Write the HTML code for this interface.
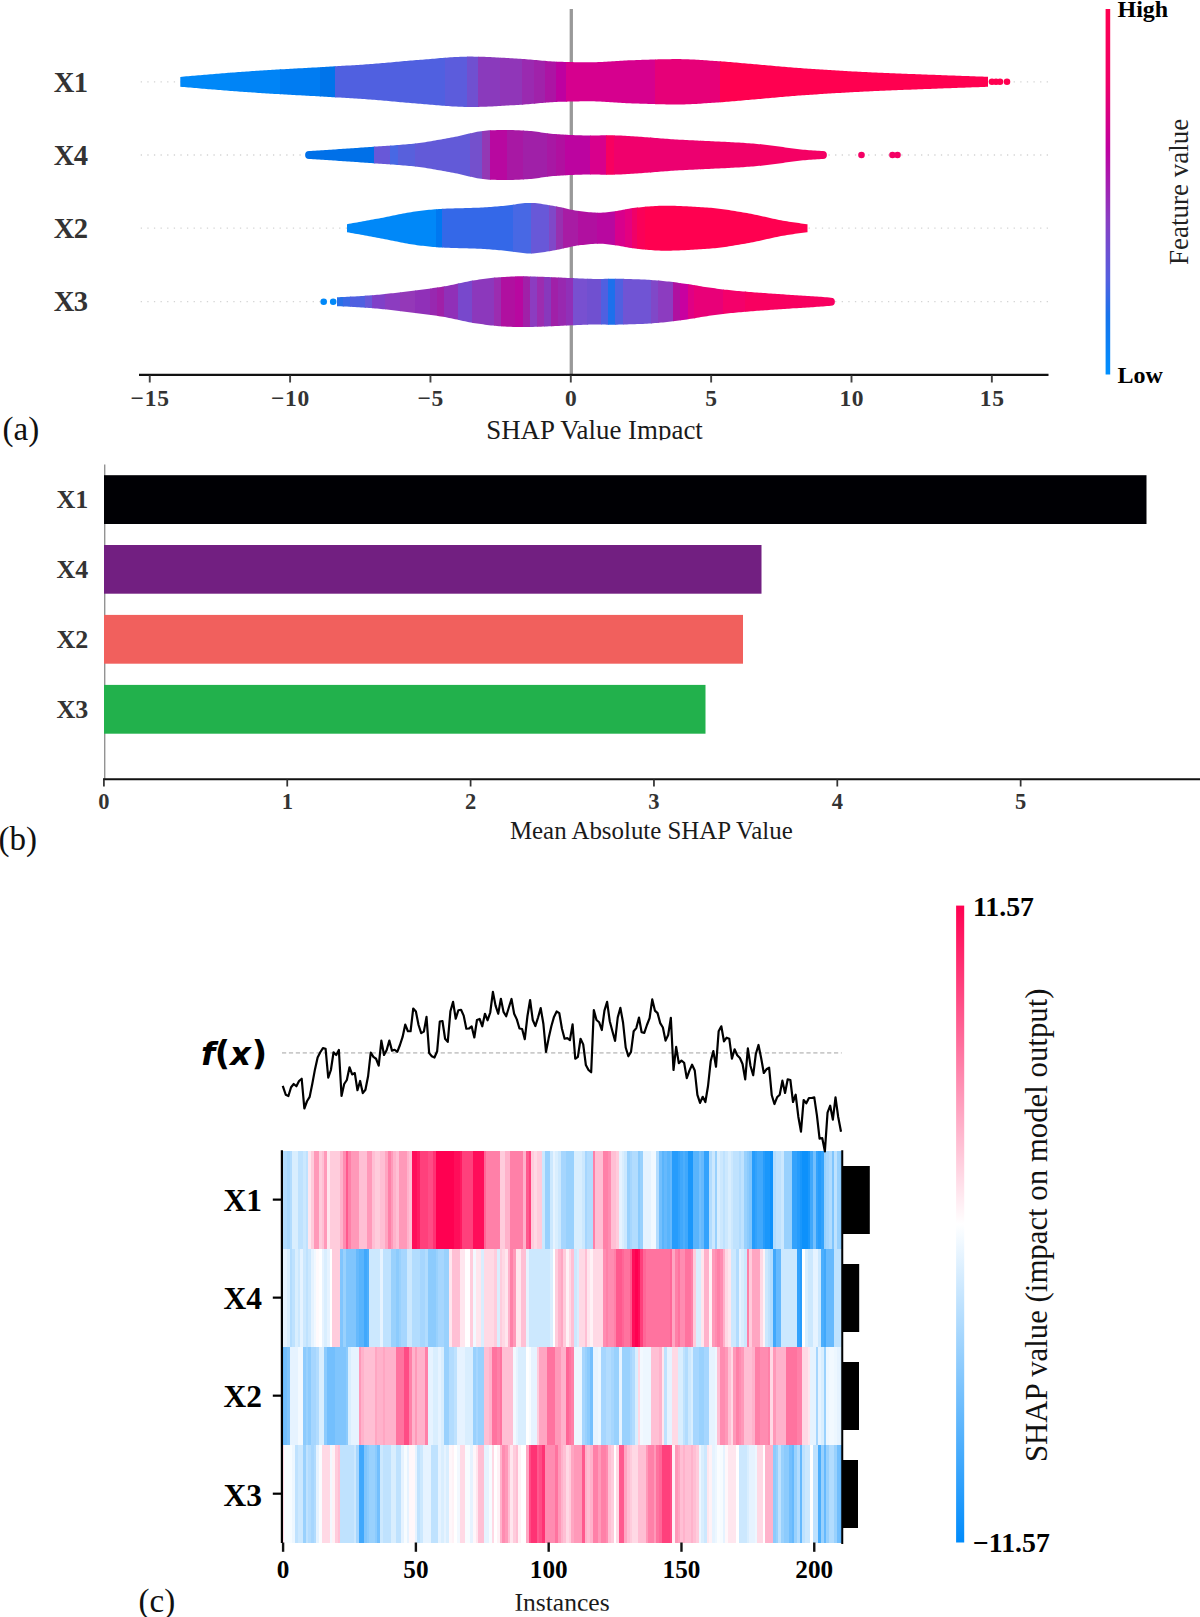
<!DOCTYPE html>
<html lang="en"><head><meta charset="utf-8"><title>SHAP analysis figure</title>
<style>
html,body{margin:0;padding:0;background:#fff;}
body{width:1200px;height:1617px;overflow:hidden;}
svg{display:block;}
text{font-family:"Liberation Serif","DejaVu Serif",serif;}
.b{font-weight:bold;}
.g{fill:#333;}
.fx{font-family:"DejaVu Sans","Liberation Sans",sans-serif;font-weight:bold;font-style:italic;}
</style></head><body>
<svg width="1200" height="1617" viewBox="0 0 1200 1617">
<rect width="1200" height="1617" fill="#fff"/>

<!-- panel a -->
<defs>
<linearGradient id="cba" x1="0" y1="0" x2="0" y2="1"><stop offset="0" stop-color="#FF0050"/><stop offset="0.2" stop-color="#F00068"/><stop offset="0.38" stop-color="#C000A0"/><stop offset="0.58" stop-color="#8840C4"/><stop offset="0.74" stop-color="#5460E0"/><stop offset="0.84" stop-color="#1874EC"/><stop offset="1" stop-color="#0090FF"/></linearGradient>
<linearGradient id="cbc" x1="0" y1="0" x2="0" y2="1"><stop offset="0" stop-color="#FF0051"/><stop offset="0.5" stop-color="#FFFFFF"/><stop offset="1" stop-color="#008BFB"/></linearGradient>
<clipPath id="cpX1"><path d="M180.3 76.9 L182.3 76.72 L184.3 76.54 L186.3 76.36 L188.3 76.18 L190.3 76.01 L192.3 75.83 L194.3 75.66 L196.3 75.49 L198.3 75.31 L200.3 75.14 L202.3 74.97 L204.3 74.8 L206.3 74.64 L208.3 74.47 L210.3 74.3 L212.3 74.14 L214.3 73.98 L216.3 73.81 L218.3 73.65 L220.3 73.49 L222.3 73.34 L224.3 73.18 L226.3 73.02 L228.3 72.87 L230.3 72.71 L232.3 72.56 L234.3 72.41 L236.3 72.26 L238.3 72.11 L240.3 71.97 L242.3 71.82 L244.3 71.68 L246.3 71.54 L248.3 71.4 L250.3 71.26 L252.3 71.12 L254.3 70.98 L256.3 70.85 L258.3 70.71 L260.3 70.58 L262.3 70.45 L264.3 70.33 L266.3 70.2 L268.3 70.08 L270.3 69.95 L272.3 69.83 L274.3 69.71 L276.3 69.6 L278.3 69.48 L280.3 69.36 L282.3 69.25 L284.3 69.14 L286.3 69.02 L288.3 68.91 L290.3 68.8 L292.3 68.69 L294.3 68.58 L296.3 68.47 L298.3 68.36 L300.3 68.25 L302.3 68.14 L304.3 68.04 L306.3 67.93 L308.3 67.82 L310.3 67.71 L312.3 67.6 L314.3 67.49 L316.3 67.38 L318.3 67.27 L320.3 67.15 L322.3 67.04 L324.3 66.93 L326.3 66.81 L328.3 66.7 L330.3 66.58 L332.3 66.46 L334.3 66.34 L336.3 66.22 L338.3 66.1 L340.3 65.98 L342.3 65.86 L344.3 65.74 L346.3 65.62 L348.3 65.5 L350.3 65.38 L352.3 65.26 L354.3 65.14 L356.3 65.02 L358.3 64.89 L360.3 64.76 L362.3 64.63 L364.3 64.5 L366.3 64.36 L368.3 64.22 L370.3 64.08 L372.3 63.93 L374.3 63.78 L376.3 63.62 L378.3 63.45 L380.3 63.28 L382.3 63.11 L384.3 62.94 L386.3 62.76 L388.3 62.58 L390.3 62.39 L392.3 62.21 L394.3 62.02 L396.3 61.84 L398.3 61.65 L400.3 61.47 L402.3 61.29 L404.3 61.1 L406.3 60.93 L408.3 60.75 L410.3 60.58 L412.3 60.41 L414.3 60.24 L416.3 60.08 L418.3 59.93 L420.3 59.78 L422.3 59.63 L424.3 59.47 L426.3 59.31 L428.3 59.14 L430.3 58.97 L432.3 58.8 L434.3 58.63 L436.3 58.46 L438.3 58.29 L440.3 58.12 L442.3 57.96 L444.3 57.8 L446.3 57.64 L448.3 57.49 L450.3 57.35 L452.3 57.22 L454.3 57.1 L456.3 56.99 L458.3 56.89 L460.3 56.8 L462.3 56.73 L464.3 56.67 L466.3 56.63 L468.3 56.61 L470.3 56.6 L472.3 56.61 L474.3 56.63 L476.3 56.66 L478.3 56.7 L480.3 56.75 L482.3 56.81 L484.3 56.87 L486.3 56.95 L488.3 57.03 L490.3 57.12 L492.3 57.21 L494.3 57.31 L496.3 57.42 L498.3 57.53 L500.3 57.64 L502.3 57.75 L504.3 57.87 L506.3 57.99 L508.3 58.11 L510.3 58.23 L512.3 58.35 L514.3 58.47 L516.3 58.59 L518.3 58.7 L520.3 58.82 L522.3 58.94 L524.3 59.08 L526.3 59.23 L528.3 59.39 L530.3 59.56 L532.3 59.74 L534.3 59.92 L536.3 60.1 L538.3 60.29 L540.3 60.48 L542.3 60.66 L544.3 60.83 L546.3 61 L548.3 61.16 L550.3 61.31 L552.3 61.44 L554.3 61.56 L556.3 61.66 L558.3 61.75 L560.3 61.81 L562.3 61.86 L564.3 61.91 L566.3 61.96 L568.3 62.01 L570.3 62.05 L572.3 62.1 L574.3 62.14 L576.3 62.17 L578.3 62.2 L580.3 62.23 L582.3 62.26 L584.3 62.28 L586.3 62.29 L588.3 62.3 L590.3 62.3 L592.3 62.29 L594.3 62.25 L596.3 62.2 L598.3 62.12 L600.3 62.04 L602.3 61.94 L604.3 61.83 L606.3 61.71 L608.3 61.58 L610.3 61.45 L612.3 61.32 L614.3 61.18 L616.3 61.05 L618.3 60.91 L620.3 60.79 L622.3 60.67 L624.3 60.55 L626.3 60.45 L628.3 60.36 L630.3 60.29 L632.3 60.22 L634.3 60.15 L636.3 60.08 L638.3 60.01 L640.3 59.94 L642.3 59.87 L644.3 59.8 L646.3 59.73 L648.3 59.66 L650.3 59.6 L652.3 59.54 L654.3 59.48 L656.3 59.42 L658.3 59.37 L660.3 59.32 L662.3 59.27 L664.3 59.23 L666.3 59.19 L668.3 59.16 L670.3 59.14 L672.3 59.12 L674.3 59.11 L676.3 59.1 L678.3 59.1 L680.3 59.12 L682.3 59.16 L684.3 59.2 L686.3 59.26 L688.3 59.34 L690.3 59.42 L692.3 59.51 L694.3 59.61 L696.3 59.72 L698.3 59.84 L700.3 59.97 L702.3 60.09 L704.3 60.23 L706.3 60.36 L708.3 60.5 L710.3 60.64 L712.3 60.78 L714.3 60.92 L716.3 61.06 L718.3 61.19 L720.3 61.32 L722.3 61.45 L724.3 61.6 L726.3 61.75 L728.3 61.91 L730.3 62.07 L732.3 62.24 L734.3 62.41 L736.3 62.59 L738.3 62.77 L740.3 62.95 L742.3 63.13 L744.3 63.3 L746.3 63.48 L748.3 63.65 L750.3 63.83 L752.3 64 L754.3 64.17 L756.3 64.34 L758.3 64.52 L760.3 64.7 L762.3 64.88 L764.3 65.06 L766.3 65.24 L768.3 65.43 L770.3 65.61 L772.3 65.79 L774.3 65.97 L776.3 66.15 L778.3 66.33 L780.3 66.5 L782.3 66.68 L784.3 66.85 L786.3 67.02 L788.3 67.19 L790.3 67.36 L792.3 67.52 L794.3 67.67 L796.3 67.83 L798.3 67.98 L800.3 68.12 L802.3 68.26 L804.3 68.4 L806.3 68.54 L808.3 68.68 L810.3 68.82 L812.3 68.96 L814.3 69.09 L816.3 69.22 L818.3 69.35 L820.3 69.49 L822.3 69.62 L824.3 69.74 L826.3 69.87 L828.3 70 L830.3 70.12 L832.3 70.24 L834.3 70.36 L836.3 70.48 L838.3 70.6 L840.3 70.72 L842.3 70.84 L844.3 70.95 L846.3 71.07 L848.3 71.18 L850.3 71.29 L852.3 71.4 L854.3 71.5 L856.3 71.61 L858.3 71.72 L860.3 71.82 L862.3 71.92 L864.3 72.02 L866.3 72.12 L868.3 72.22 L870.3 72.31 L872.3 72.41 L874.3 72.5 L876.3 72.59 L878.3 72.68 L880.3 72.77 L882.3 72.86 L884.3 72.94 L886.3 73.03 L888.3 73.11 L890.3 73.19 L892.3 73.27 L894.3 73.35 L896.3 73.43 L898.3 73.51 L900.3 73.58 L902.3 73.66 L904.3 73.74 L906.3 73.81 L908.3 73.89 L910.3 73.96 L912.3 74.04 L914.3 74.11 L916.3 74.19 L918.3 74.26 L920.3 74.34 L922.3 74.41 L924.3 74.49 L926.3 74.56 L928.3 74.64 L930.3 74.71 L932.3 74.79 L934.3 74.86 L936.3 74.94 L938.3 75.01 L940.3 75.09 L942.3 75.16 L944.3 75.24 L946.3 75.31 L948.3 75.39 L950.3 75.46 L952.3 75.53 L954.3 75.61 L956.3 75.68 L958.3 75.75 L960.3 75.82 L962.3 75.9 L964.3 75.97 L966.3 76.04 L968.3 76.11 L970.3 76.18 L972.3 76.25 L974.3 76.32 L976.3 76.39 L978.3 76.46 L980.3 76.53 L982.3 76.6 L984.3 76.67 L986.3 76.74 L988 76.8 L988 86.8 L986.3 86.86 L984.3 86.93 L982.3 87 L980.3 87.07 L978.3 87.14 L976.3 87.21 L974.3 87.28 L972.3 87.35 L970.3 87.42 L968.3 87.49 L966.3 87.56 L964.3 87.63 L962.3 87.7 L960.3 87.78 L958.3 87.85 L956.3 87.92 L954.3 87.99 L952.3 88.07 L950.3 88.14 L948.3 88.21 L946.3 88.29 L944.3 88.36 L942.3 88.44 L940.3 88.51 L938.3 88.59 L936.3 88.66 L934.3 88.74 L932.3 88.81 L930.3 88.89 L928.3 88.96 L926.3 89.04 L924.3 89.11 L922.3 89.19 L920.3 89.26 L918.3 89.34 L916.3 89.41 L914.3 89.49 L912.3 89.56 L910.3 89.64 L908.3 89.71 L906.3 89.79 L904.3 89.86 L902.3 89.94 L900.3 90.02 L898.3 90.09 L896.3 90.17 L894.3 90.25 L892.3 90.33 L890.3 90.41 L888.3 90.49 L886.3 90.57 L884.3 90.66 L882.3 90.74 L880.3 90.83 L878.3 90.92 L876.3 91.01 L874.3 91.1 L872.3 91.19 L870.3 91.29 L868.3 91.38 L866.3 91.48 L864.3 91.58 L862.3 91.68 L860.3 91.78 L858.3 91.88 L856.3 91.99 L854.3 92.1 L852.3 92.2 L850.3 92.31 L848.3 92.42 L846.3 92.53 L844.3 92.65 L842.3 92.76 L840.3 92.88 L838.3 93 L836.3 93.12 L834.3 93.24 L832.3 93.36 L830.3 93.48 L828.3 93.6 L826.3 93.73 L824.3 93.86 L822.3 93.98 L820.3 94.11 L818.3 94.25 L816.3 94.38 L814.3 94.51 L812.3 94.64 L810.3 94.78 L808.3 94.92 L806.3 95.06 L804.3 95.2 L802.3 95.34 L800.3 95.48 L798.3 95.62 L796.3 95.77 L794.3 95.93 L792.3 96.08 L790.3 96.24 L788.3 96.41 L786.3 96.58 L784.3 96.75 L782.3 96.92 L780.3 97.1 L778.3 97.27 L776.3 97.45 L774.3 97.63 L772.3 97.81 L770.3 97.99 L768.3 98.17 L766.3 98.36 L764.3 98.54 L762.3 98.72 L760.3 98.9 L758.3 99.08 L756.3 99.26 L754.3 99.43 L752.3 99.6 L750.3 99.77 L748.3 99.95 L746.3 100.12 L744.3 100.3 L742.3 100.47 L740.3 100.65 L738.3 100.83 L736.3 101.01 L734.3 101.19 L732.3 101.36 L730.3 101.53 L728.3 101.69 L726.3 101.85 L724.3 102 L722.3 102.15 L720.3 102.28 L718.3 102.41 L716.3 102.54 L714.3 102.68 L712.3 102.82 L710.3 102.96 L708.3 103.1 L706.3 103.24 L704.3 103.37 L702.3 103.51 L700.3 103.63 L698.3 103.76 L696.3 103.88 L694.3 103.99 L692.3 104.09 L690.3 104.18 L688.3 104.26 L686.3 104.34 L684.3 104.4 L682.3 104.44 L680.3 104.48 L678.3 104.5 L676.3 104.5 L674.3 104.49 L672.3 104.48 L670.3 104.46 L668.3 104.44 L666.3 104.41 L664.3 104.37 L662.3 104.33 L660.3 104.28 L658.3 104.23 L656.3 104.18 L654.3 104.12 L652.3 104.06 L650.3 104 L648.3 103.94 L646.3 103.87 L644.3 103.8 L642.3 103.73 L640.3 103.66 L638.3 103.59 L636.3 103.52 L634.3 103.45 L632.3 103.38 L630.3 103.31 L628.3 103.24 L626.3 103.15 L624.3 103.05 L622.3 102.93 L620.3 102.81 L618.3 102.69 L616.3 102.55 L614.3 102.42 L612.3 102.28 L610.3 102.15 L608.3 102.02 L606.3 101.89 L604.3 101.77 L602.3 101.66 L600.3 101.56 L598.3 101.48 L596.3 101.4 L594.3 101.35 L592.3 101.31 L590.3 101.3 L588.3 101.3 L586.3 101.31 L584.3 101.32 L582.3 101.34 L580.3 101.37 L578.3 101.4 L576.3 101.43 L574.3 101.46 L572.3 101.5 L570.3 101.55 L568.3 101.59 L566.3 101.64 L564.3 101.69 L562.3 101.74 L560.3 101.79 L558.3 101.85 L556.3 101.94 L554.3 102.04 L552.3 102.16 L550.3 102.29 L548.3 102.44 L546.3 102.6 L544.3 102.77 L542.3 102.94 L540.3 103.12 L538.3 103.31 L536.3 103.5 L534.3 103.68 L532.3 103.86 L530.3 104.04 L528.3 104.21 L526.3 104.37 L524.3 104.52 L522.3 104.66 L520.3 104.78 L518.3 104.9 L516.3 105.01 L514.3 105.13 L512.3 105.25 L510.3 105.37 L508.3 105.49 L506.3 105.61 L504.3 105.73 L502.3 105.85 L500.3 105.96 L498.3 106.07 L496.3 106.18 L494.3 106.29 L492.3 106.39 L490.3 106.48 L488.3 106.57 L486.3 106.65 L484.3 106.73 L482.3 106.79 L480.3 106.85 L478.3 106.9 L476.3 106.94 L474.3 106.97 L472.3 106.99 L470.3 107 L468.3 106.99 L466.3 106.97 L464.3 106.93 L462.3 106.87 L460.3 106.8 L458.3 106.71 L456.3 106.61 L454.3 106.5 L452.3 106.38 L450.3 106.25 L448.3 106.11 L446.3 105.96 L444.3 105.8 L442.3 105.64 L440.3 105.48 L438.3 105.31 L436.3 105.14 L434.3 104.97 L432.3 104.8 L430.3 104.63 L428.3 104.46 L426.3 104.29 L424.3 104.13 L422.3 103.97 L420.3 103.82 L418.3 103.67 L416.3 103.52 L414.3 103.36 L412.3 103.19 L410.3 103.02 L408.3 102.85 L406.3 102.67 L404.3 102.5 L402.3 102.31 L400.3 102.13 L398.3 101.95 L396.3 101.76 L394.3 101.58 L392.3 101.39 L390.3 101.21 L388.3 101.02 L386.3 100.84 L384.3 100.66 L382.3 100.49 L380.3 100.32 L378.3 100.15 L376.3 99.98 L374.3 99.82 L372.3 99.67 L370.3 99.52 L368.3 99.38 L366.3 99.24 L364.3 99.1 L362.3 98.97 L360.3 98.84 L358.3 98.71 L356.3 98.58 L354.3 98.46 L352.3 98.34 L350.3 98.22 L348.3 98.1 L346.3 97.98 L344.3 97.86 L342.3 97.74 L340.3 97.62 L338.3 97.5 L336.3 97.38 L334.3 97.26 L332.3 97.14 L330.3 97.02 L328.3 96.9 L326.3 96.79 L324.3 96.67 L322.3 96.56 L320.3 96.45 L318.3 96.33 L316.3 96.22 L314.3 96.11 L312.3 96 L310.3 95.89 L308.3 95.78 L306.3 95.67 L304.3 95.56 L302.3 95.46 L300.3 95.35 L298.3 95.24 L296.3 95.13 L294.3 95.02 L292.3 94.91 L290.3 94.8 L288.3 94.69 L286.3 94.58 L284.3 94.46 L282.3 94.35 L280.3 94.24 L278.3 94.12 L276.3 94 L274.3 93.89 L272.3 93.77 L270.3 93.65 L268.3 93.52 L266.3 93.4 L264.3 93.27 L262.3 93.15 L260.3 93.02 L258.3 92.89 L256.3 92.75 L254.3 92.62 L252.3 92.48 L250.3 92.34 L248.3 92.2 L246.3 92.06 L244.3 91.92 L242.3 91.78 L240.3 91.63 L238.3 91.49 L236.3 91.34 L234.3 91.19 L232.3 91.04 L230.3 90.89 L228.3 90.73 L226.3 90.58 L224.3 90.42 L222.3 90.26 L220.3 90.11 L218.3 89.95 L216.3 89.79 L214.3 89.62 L212.3 89.46 L210.3 89.3 L208.3 89.13 L206.3 88.96 L204.3 88.8 L202.3 88.63 L200.3 88.46 L198.3 88.29 L196.3 88.11 L194.3 87.94 L192.3 87.77 L190.3 87.59 L188.3 87.42 L186.3 87.24 L184.3 87.06 L182.3 86.88 L180.3 86.7 Z"/></clipPath>
<clipPath id="cpX4"><path d="M309.1 151 L311.1 150.88 L313.1 150.76 L315.1 150.64 L317.1 150.52 L319.1 150.4 L321.1 150.27 L323.1 150.15 L325.1 150.02 L327.1 149.9 L329.1 149.77 L331.1 149.64 L333.1 149.51 L335.1 149.38 L337.1 149.25 L339.1 149.12 L341.1 148.99 L343.1 148.85 L345.1 148.72 L347.1 148.58 L349.1 148.45 L351.1 148.31 L353.1 148.17 L355.1 148.04 L357.1 147.9 L359.1 147.76 L361.1 147.62 L363.1 147.48 L365.1 147.34 L367.1 147.19 L369.1 147.05 L371.1 146.91 L373.1 146.76 L375.1 146.62 L377.1 146.48 L379.1 146.34 L381.1 146.2 L383.1 146.07 L385.1 145.93 L387.1 145.79 L389.1 145.66 L391.1 145.52 L393.1 145.38 L395.1 145.23 L397.1 145.09 L399.1 144.93 L401.1 144.78 L403.1 144.61 L405.1 144.45 L407.1 144.27 L409.1 144.09 L411.1 143.9 L413.1 143.7 L415.1 143.49 L417.1 143.26 L419.1 143.02 L421.1 142.75 L423.1 142.47 L425.1 142.17 L427.1 141.85 L429.1 141.52 L431.1 141.19 L433.1 140.84 L435.1 140.48 L437.1 140.12 L439.1 139.75 L441.1 139.38 L443.1 139.01 L445.1 138.64 L447.1 138.27 L449.1 137.91 L451.1 137.55 L453.1 137.19 L455.1 136.81 L457.1 136.4 L459.1 135.97 L461.1 135.51 L463.1 135.04 L465.1 134.57 L467.1 134.09 L469.1 133.61 L471.1 133.15 L473.1 132.7 L475.1 132.27 L477.1 131.87 L479.1 131.5 L481.1 131.16 L483.1 130.88 L485.1 130.64 L487.1 130.45 L489.1 130.33 L491.1 130.27 L493.1 130.21 L495.1 130.16 L497.1 130.12 L499.1 130.08 L501.1 130.04 L503.1 130.02 L505.1 130 L507.1 130 L509.1 130.01 L511.1 130.04 L513.1 130.1 L515.1 130.16 L517.1 130.25 L519.1 130.34 L521.1 130.45 L523.1 130.56 L525.1 130.69 L527.1 130.81 L529.1 130.94 L531.1 131.08 L533.1 131.27 L535.1 131.51 L537.1 131.79 L539.1 132.09 L541.1 132.4 L543.1 132.72 L545.1 133.02 L547.1 133.3 L549.1 133.54 L551.1 133.73 L553.1 133.88 L555.1 134.01 L557.1 134.15 L559.1 134.28 L561.1 134.41 L563.1 134.54 L565.1 134.66 L567.1 134.77 L569.1 134.88 L571.1 134.98 L573.1 135.08 L575.1 135.17 L577.1 135.25 L579.1 135.31 L581.1 135.37 L583.1 135.42 L585.1 135.46 L587.1 135.49 L589.1 135.5 L591.1 135.5 L593.1 135.48 L595.1 135.45 L597.1 135.42 L599.1 135.38 L601.1 135.35 L603.1 135.32 L605.1 135.3 L607.1 135.3 L609.1 135.31 L611.1 135.33 L613.1 135.37 L615.1 135.42 L617.1 135.47 L619.1 135.54 L621.1 135.62 L623.1 135.71 L625.1 135.81 L627.1 135.91 L629.1 136.02 L631.1 136.14 L633.1 136.27 L635.1 136.4 L637.1 136.54 L639.1 136.68 L641.1 136.82 L643.1 136.97 L645.1 137.13 L647.1 137.28 L649.1 137.44 L651.1 137.6 L653.1 137.76 L655.1 137.92 L657.1 138.08 L659.1 138.23 L661.1 138.39 L663.1 138.55 L665.1 138.7 L667.1 138.85 L669.1 138.99 L671.1 139.14 L673.1 139.27 L675.1 139.4 L677.1 139.53 L679.1 139.65 L681.1 139.76 L683.1 139.87 L685.1 139.98 L687.1 140.08 L689.1 140.18 L691.1 140.28 L693.1 140.37 L695.1 140.47 L697.1 140.56 L699.1 140.65 L701.1 140.75 L703.1 140.84 L705.1 140.93 L707.1 141.02 L709.1 141.1 L711.1 141.19 L713.1 141.29 L715.1 141.38 L717.1 141.47 L719.1 141.56 L721.1 141.66 L723.1 141.75 L725.1 141.85 L727.1 141.95 L729.1 142.06 L731.1 142.16 L733.1 142.27 L735.1 142.38 L737.1 142.5 L739.1 142.62 L741.1 142.74 L743.1 142.87 L745.1 143 L747.1 143.14 L749.1 143.28 L751.1 143.43 L753.1 143.59 L755.1 143.76 L757.1 143.95 L759.1 144.15 L761.1 144.36 L763.1 144.59 L765.1 144.82 L767.1 145.07 L769.1 145.31 L771.1 145.57 L773.1 145.82 L775.1 146.08 L777.1 146.33 L779.1 146.59 L781.1 146.84 L783.1 147.11 L785.1 147.4 L787.1 147.7 L789.1 148 L791.1 148.29 L793.1 148.58 L795.1 148.85 L797.1 149.09 L799.1 149.31 L801.1 149.5 L803.1 149.68 L805.1 149.86 L807.1 150.03 L809.1 150.19 L811.1 150.34 L813.1 150.48 L815.1 150.61 L817.1 150.73 L819.1 150.84 L821.1 150.93 L822.9 151 A4 4 0 0 1 822.9 159 L822.9 159 L821.1 159.07 L819.1 159.16 L817.1 159.27 L815.1 159.39 L813.1 159.52 L811.1 159.66 L809.1 159.81 L807.1 159.97 L805.1 160.14 L803.1 160.32 L801.1 160.5 L799.1 160.69 L797.1 160.91 L795.1 161.15 L793.1 161.42 L791.1 161.71 L789.1 162 L787.1 162.3 L785.1 162.6 L783.1 162.89 L781.1 163.16 L779.1 163.41 L777.1 163.67 L775.1 163.92 L773.1 164.18 L771.1 164.43 L769.1 164.69 L767.1 164.93 L765.1 165.18 L763.1 165.41 L761.1 165.64 L759.1 165.85 L757.1 166.05 L755.1 166.24 L753.1 166.41 L751.1 166.57 L749.1 166.72 L747.1 166.86 L745.1 167 L743.1 167.13 L741.1 167.26 L739.1 167.38 L737.1 167.5 L735.1 167.62 L733.1 167.73 L731.1 167.84 L729.1 167.94 L727.1 168.05 L725.1 168.15 L723.1 168.25 L721.1 168.34 L719.1 168.44 L717.1 168.53 L715.1 168.62 L713.1 168.71 L711.1 168.81 L709.1 168.9 L707.1 168.98 L705.1 169.07 L703.1 169.16 L701.1 169.25 L699.1 169.35 L697.1 169.44 L695.1 169.53 L693.1 169.63 L691.1 169.72 L689.1 169.82 L687.1 169.92 L685.1 170.02 L683.1 170.13 L681.1 170.24 L679.1 170.35 L677.1 170.47 L675.1 170.6 L673.1 170.73 L671.1 170.86 L669.1 171.01 L667.1 171.15 L665.1 171.3 L663.1 171.45 L661.1 171.61 L659.1 171.77 L657.1 171.92 L655.1 172.08 L653.1 172.24 L651.1 172.4 L649.1 172.56 L647.1 172.72 L645.1 172.87 L643.1 173.03 L641.1 173.18 L639.1 173.32 L637.1 173.46 L635.1 173.6 L633.1 173.73 L631.1 173.86 L629.1 173.98 L627.1 174.09 L625.1 174.19 L623.1 174.29 L621.1 174.38 L619.1 174.46 L617.1 174.53 L615.1 174.58 L613.1 174.63 L611.1 174.67 L609.1 174.69 L607.1 174.7 L605.1 174.7 L603.1 174.68 L601.1 174.65 L599.1 174.62 L597.1 174.58 L595.1 174.55 L593.1 174.52 L591.1 174.5 L589.1 174.5 L587.1 174.51 L585.1 174.54 L583.1 174.58 L581.1 174.63 L579.1 174.69 L577.1 174.75 L575.1 174.83 L573.1 174.92 L571.1 175.02 L569.1 175.12 L567.1 175.23 L565.1 175.34 L563.1 175.46 L561.1 175.59 L559.1 175.72 L557.1 175.85 L555.1 175.99 L553.1 176.12 L551.1 176.27 L549.1 176.46 L547.1 176.7 L545.1 176.98 L543.1 177.28 L541.1 177.6 L539.1 177.91 L537.1 178.21 L535.1 178.49 L533.1 178.73 L531.1 178.92 L529.1 179.06 L527.1 179.19 L525.1 179.31 L523.1 179.44 L521.1 179.55 L519.1 179.66 L517.1 179.75 L515.1 179.84 L513.1 179.9 L511.1 179.96 L509.1 179.99 L507.1 180 L505.1 180 L503.1 179.98 L501.1 179.96 L499.1 179.92 L497.1 179.88 L495.1 179.84 L493.1 179.79 L491.1 179.73 L489.1 179.67 L487.1 179.55 L485.1 179.36 L483.1 179.12 L481.1 178.84 L479.1 178.5 L477.1 178.13 L475.1 177.73 L473.1 177.3 L471.1 176.85 L469.1 176.39 L467.1 175.91 L465.1 175.43 L463.1 174.96 L461.1 174.49 L459.1 174.03 L457.1 173.6 L455.1 173.19 L453.1 172.81 L451.1 172.45 L449.1 172.09 L447.1 171.73 L445.1 171.36 L443.1 170.99 L441.1 170.62 L439.1 170.25 L437.1 169.88 L435.1 169.52 L433.1 169.16 L431.1 168.81 L429.1 168.48 L427.1 168.15 L425.1 167.83 L423.1 167.53 L421.1 167.25 L419.1 166.98 L417.1 166.74 L415.1 166.51 L413.1 166.3 L411.1 166.1 L409.1 165.91 L407.1 165.73 L405.1 165.55 L403.1 165.39 L401.1 165.22 L399.1 165.07 L397.1 164.91 L395.1 164.77 L393.1 164.62 L391.1 164.48 L389.1 164.34 L387.1 164.21 L385.1 164.07 L383.1 163.93 L381.1 163.8 L379.1 163.66 L377.1 163.52 L375.1 163.38 L373.1 163.24 L371.1 163.09 L369.1 162.95 L367.1 162.81 L365.1 162.66 L363.1 162.52 L361.1 162.38 L359.1 162.24 L357.1 162.1 L355.1 161.96 L353.1 161.83 L351.1 161.69 L349.1 161.55 L347.1 161.42 L345.1 161.28 L343.1 161.15 L341.1 161.01 L339.1 160.88 L337.1 160.75 L335.1 160.62 L333.1 160.49 L331.1 160.36 L329.1 160.23 L327.1 160.1 L325.1 159.98 L323.1 159.85 L321.1 159.73 L319.1 159.6 L317.1 159.48 L315.1 159.36 L313.1 159.24 L311.1 159.12 L309.1 159 A4 4 0 0 1 309.1 151 Z"/></clipPath>
<clipPath id="cpX2"><path d="M347 224.2 L349 223.84 L351 223.48 L353 223.12 L355 222.76 L357 222.4 L359 222.04 L361 221.67 L363 221.31 L365 220.95 L367 220.58 L369 220.22 L371 219.85 L373 219.49 L375 219.12 L377 218.75 L379 218.38 L381 218.01 L383 217.63 L385 217.24 L387 216.84 L389 216.43 L391 216.02 L393 215.6 L395 215.19 L397 214.78 L399 214.37 L401 213.97 L403 213.57 L405 213.19 L407 212.82 L409 212.47 L411 212.14 L413 211.82 L415 211.53 L417 211.26 L419 211.01 L421 210.77 L423 210.53 L425 210.3 L427 210.08 L429 209.87 L431 209.67 L433 209.48 L435 209.31 L437 209.15 L439 209 L441 208.88 L443 208.78 L445 208.68 L447 208.6 L449 208.53 L451 208.46 L453 208.4 L455 208.34 L457 208.29 L459 208.24 L461 208.19 L463 208.14 L465 208.09 L467 208.04 L469 207.99 L471 207.93 L473 207.87 L475 207.8 L477 207.73 L479 207.65 L481 207.55 L483 207.45 L485 207.33 L487 207.2 L489 207.06 L491 206.91 L493 206.75 L495 206.58 L497 206.41 L499 206.24 L501 206.06 L503 205.88 L505 205.7 L507 205.5 L509 205.25 L511 204.98 L513 204.69 L515 204.39 L517 204.09 L519 203.8 L521 203.54 L523 203.31 L525 203.12 L527 202.98 L529 202.91 L531 202.91 L533 202.98 L535 203.12 L537 203.31 L539 203.55 L541 203.82 L543 204.13 L545 204.47 L547 204.81 L549 205.17 L551 205.52 L553 205.87 L555 206.2 L557 206.54 L559 206.93 L561 207.36 L563 207.81 L565 208.28 L567 208.74 L569 209.21 L571 209.66 L573 210.08 L575 210.46 L577 210.8 L579 211.08 L581 211.31 L583 211.52 L585 211.74 L587 211.94 L589 212.13 L591 212.3 L593 212.45 L595 212.57 L597 212.65 L599 212.69 L601 212.69 L603 212.6 L605 212.45 L607 212.24 L609 212 L611 211.73 L613 211.46 L615 211.2 L617 210.92 L619 210.59 L621 210.23 L623 209.84 L625 209.44 L627 209.05 L629 208.68 L631 208.34 L633 208.04 L635 207.8 L637 207.6 L639 207.39 L641 207.19 L643 206.99 L645 206.8 L647 206.62 L649 206.45 L651 206.29 L653 206.15 L655 206.02 L657 205.91 L659 205.82 L661 205.75 L663 205.71 L665 205.7 L667 205.71 L669 205.72 L671 205.75 L673 205.79 L675 205.84 L677 205.9 L679 205.97 L681 206.05 L683 206.13 L685 206.22 L687 206.32 L689 206.43 L691 206.54 L693 206.66 L695 206.78 L697 206.9 L699 207.04 L701 207.17 L703 207.31 L705 207.45 L707 207.59 L709 207.73 L711 207.87 L713 208.04 L715 208.23 L717 208.44 L719 208.68 L721 208.93 L723 209.19 L725 209.47 L727 209.77 L729 210.08 L731 210.39 L733 210.72 L735 211.05 L737 211.39 L739 211.74 L741 212.08 L743 212.43 L745 212.77 L747 213.11 L749 213.46 L751 213.83 L753 214.22 L755 214.63 L757 215.05 L759 215.48 L761 215.93 L763 216.38 L765 216.83 L767 217.29 L769 217.74 L771 218.19 L773 218.64 L775 219.07 L777 219.49 L779 219.9 L781 220.29 L783 220.65 L785 221 L787 221.33 L789 221.65 L791 221.96 L793 222.26 L795 222.56 L797 222.84 L799 223.12 L801 223.39 L803 223.65 L805 223.9 L807 224.14 L807.5 224.2 L807.5 232.2 L807 232.26 L805 232.5 L803 232.75 L801 233.01 L799 233.28 L797 233.56 L795 233.84 L793 234.14 L791 234.44 L789 234.75 L787 235.07 L785 235.4 L783 235.75 L781 236.11 L779 236.5 L777 236.91 L775 237.33 L773 237.76 L771 238.21 L769 238.66 L767 239.11 L765 239.57 L763 240.02 L761 240.47 L759 240.92 L757 241.35 L755 241.77 L753 242.18 L751 242.57 L749 242.94 L747 243.29 L745 243.63 L743 243.97 L741 244.32 L739 244.66 L737 245.01 L735 245.35 L733 245.68 L731 246.01 L729 246.32 L727 246.63 L725 246.93 L723 247.21 L721 247.47 L719 247.72 L717 247.96 L715 248.17 L713 248.36 L711 248.53 L709 248.67 L707 248.81 L705 248.95 L703 249.09 L701 249.23 L699 249.36 L697 249.5 L695 249.62 L693 249.74 L691 249.86 L689 249.97 L687 250.08 L685 250.18 L683 250.27 L681 250.35 L679 250.43 L677 250.5 L675 250.56 L673 250.61 L671 250.65 L669 250.68 L667 250.69 L665 250.7 L663 250.69 L661 250.65 L659 250.58 L657 250.49 L655 250.38 L653 250.25 L651 250.11 L649 249.95 L647 249.78 L645 249.6 L643 249.41 L641 249.21 L639 249.01 L637 248.8 L635 248.6 L633 248.36 L631 248.06 L629 247.72 L627 247.35 L625 246.96 L623 246.56 L621 246.17 L619 245.81 L617 245.48 L615 245.2 L613 244.94 L611 244.67 L609 244.4 L607 244.16 L605 243.95 L603 243.8 L601 243.71 L599 243.71 L597 243.75 L595 243.83 L593 243.95 L591 244.1 L589 244.27 L587 244.46 L585 244.66 L583 244.88 L581 245.09 L579 245.32 L577 245.6 L575 245.94 L573 246.32 L571 246.74 L569 247.19 L567 247.66 L565 248.12 L563 248.59 L561 249.04 L559 249.47 L557 249.86 L555 250.2 L553 250.53 L551 250.88 L549 251.23 L547 251.59 L545 251.93 L543 252.27 L541 252.58 L539 252.85 L537 253.09 L535 253.28 L533 253.42 L531 253.49 L529 253.49 L527 253.42 L525 253.28 L523 253.09 L521 252.86 L519 252.6 L517 252.31 L515 252.01 L513 251.71 L511 251.42 L509 251.15 L507 250.9 L505 250.7 L503 250.52 L501 250.34 L499 250.16 L497 249.99 L495 249.82 L493 249.65 L491 249.49 L489 249.34 L487 249.2 L485 249.07 L483 248.95 L481 248.85 L479 248.75 L477 248.67 L475 248.6 L473 248.53 L471 248.47 L469 248.41 L467 248.36 L465 248.31 L463 248.26 L461 248.21 L459 248.16 L457 248.11 L455 248.06 L453 248 L451 247.94 L449 247.87 L447 247.8 L445 247.72 L443 247.62 L441 247.52 L439 247.4 L437 247.25 L435 247.09 L433 246.92 L431 246.73 L429 246.53 L427 246.32 L425 246.1 L423 245.87 L421 245.63 L419 245.39 L417 245.14 L415 244.87 L413 244.58 L411 244.26 L409 243.93 L407 243.58 L405 243.21 L403 242.83 L401 242.43 L399 242.03 L397 241.62 L395 241.21 L393 240.8 L391 240.38 L389 239.97 L387 239.56 L385 239.16 L383 238.77 L381 238.39 L379 238.02 L377 237.65 L375 237.28 L373 236.91 L371 236.55 L369 236.18 L367 235.82 L365 235.45 L363 235.09 L361 234.73 L359 234.36 L357 234 L355 233.64 L353 233.28 L351 232.92 L349 232.56 L347 232.2 Z"/></clipPath>
<clipPath id="cpX3"><path d="M337 297.2 L339 297.14 L341 297.07 L343 296.99 L345 296.9 L347 296.81 L349 296.71 L351 296.61 L353 296.5 L355 296.38 L357 296.26 L359 296.14 L361 296.01 L363 295.88 L365 295.74 L367 295.6 L369 295.46 L371 295.31 L373 295.16 L375 295 L377 294.83 L379 294.65 L381 294.46 L383 294.26 L385 294.04 L387 293.83 L389 293.6 L391 293.37 L393 293.13 L395 292.89 L397 292.64 L399 292.39 L401 292.14 L403 291.89 L405 291.64 L407 291.38 L409 291.13 L411 290.88 L413 290.64 L415 290.39 L417 290.15 L419 289.91 L421 289.66 L423 289.41 L425 289.16 L427 288.9 L429 288.64 L431 288.38 L433 288.11 L435 287.83 L437 287.54 L439 287.24 L441 286.94 L443 286.62 L445 286.28 L447 285.91 L449 285.51 L451 285.1 L453 284.68 L455 284.24 L457 283.79 L459 283.35 L461 282.9 L463 282.47 L465 282.04 L467 281.63 L469 281.23 L471 280.86 L473 280.51 L475 280.2 L477 279.9 L479 279.61 L481 279.32 L483 279.04 L485 278.76 L487 278.5 L489 278.25 L491 278.02 L493 277.8 L495 277.6 L497 277.42 L499 277.27 L501 277.14 L503 277.01 L505 276.88 L507 276.76 L509 276.64 L511 276.54 L513 276.45 L515 276.38 L517 276.33 L519 276.3 L521 276.3 L523 276.31 L525 276.34 L527 276.37 L529 276.41 L531 276.46 L533 276.52 L535 276.58 L537 276.64 L539 276.71 L541 276.77 L543 276.84 L545 276.9 L547 276.97 L549 277.04 L551 277.13 L553 277.21 L555 277.31 L557 277.4 L559 277.5 L561 277.6 L563 277.7 L565 277.79 L567 277.88 L569 277.96 L571 278.04 L573 278.12 L575 278.21 L577 278.29 L579 278.38 L581 278.47 L583 278.56 L585 278.64 L587 278.72 L589 278.79 L591 278.86 L593 278.91 L595 278.95 L597 278.98 L599 279 L601 278.99 L603 278.94 L605 278.85 L607 278.76 L609 278.71 L611 278.7 L613 278.71 L615 278.73 L617 278.75 L619 278.78 L621 278.82 L623 278.87 L625 278.92 L627 278.97 L629 279.03 L631 279.09 L633 279.16 L635 279.23 L637 279.29 L639 279.36 L641 279.44 L643 279.52 L645 279.62 L647 279.74 L649 279.86 L651 280 L653 280.14 L655 280.3 L657 280.45 L659 280.62 L661 280.79 L663 280.97 L665 281.17 L667 281.38 L669 281.61 L671 281.85 L673 282.09 L675 282.35 L677 282.61 L679 282.88 L681 283.15 L683 283.43 L685 283.7 L687 283.98 L689 284.29 L691 284.61 L693 284.94 L695 285.27 L697 285.61 L699 285.96 L701 286.3 L703 286.63 L705 286.95 L707 287.27 L709 287.56 L711 287.84 L713 288.11 L715 288.37 L717 288.64 L719 288.89 L721 289.15 L723 289.39 L725 289.63 L727 289.86 L729 290.08 L731 290.3 L733 290.5 L735 290.7 L737 290.89 L739 291.07 L741 291.25 L743 291.42 L745 291.59 L747 291.76 L749 291.92 L751 292.08 L753 292.24 L755 292.39 L757 292.54 L759 292.69 L761 292.83 L763 292.98 L765 293.12 L767 293.26 L769 293.4 L771 293.54 L773 293.67 L775 293.81 L777 293.95 L779 294.09 L781 294.22 L783 294.36 L785 294.5 L787 294.64 L789 294.77 L791 294.9 L793 295.03 L795 295.15 L797 295.27 L799 295.39 L801 295.51 L803 295.63 L805 295.75 L807 295.88 L809 296 L811 296.13 L813 296.26 L815 296.39 L817 296.53 L819 296.67 L821 296.82 L823 296.98 L825 297.15 L827 297.33 L829 297.52 L830.9 297.7 A4 4 0 0 1 830.9 305.7 L830.9 305.7 L829 305.88 L827 306.07 L825 306.25 L823 306.42 L821 306.58 L819 306.73 L817 306.87 L815 307.01 L813 307.14 L811 307.27 L809 307.4 L807 307.52 L805 307.65 L803 307.77 L801 307.89 L799 308.01 L797 308.13 L795 308.25 L793 308.37 L791 308.5 L789 308.63 L787 308.76 L785 308.9 L783 309.04 L781 309.18 L779 309.31 L777 309.45 L775 309.59 L773 309.73 L771 309.86 L769 310 L767 310.14 L765 310.28 L763 310.42 L761 310.57 L759 310.71 L757 310.86 L755 311.01 L753 311.16 L751 311.32 L749 311.48 L747 311.64 L745 311.81 L743 311.98 L741 312.15 L739 312.33 L737 312.51 L735 312.7 L733 312.9 L731 313.1 L729 313.32 L727 313.54 L725 313.77 L723 314.01 L721 314.25 L719 314.51 L717 314.76 L715 315.03 L713 315.29 L711 315.56 L709 315.84 L707 316.13 L705 316.45 L703 316.77 L701 317.1 L699 317.44 L697 317.79 L695 318.13 L693 318.46 L691 318.79 L689 319.11 L687 319.42 L685 319.7 L683 319.97 L681 320.25 L679 320.52 L677 320.79 L675 321.05 L673 321.31 L671 321.55 L669 321.79 L667 322.02 L665 322.23 L663 322.43 L661 322.61 L659 322.78 L657 322.95 L655 323.1 L653 323.26 L651 323.4 L649 323.54 L647 323.66 L645 323.78 L643 323.88 L641 323.96 L639 324.04 L637 324.11 L635 324.17 L633 324.24 L631 324.31 L629 324.37 L627 324.43 L625 324.48 L623 324.53 L621 324.58 L619 324.62 L617 324.65 L615 324.67 L613 324.69 L611 324.7 L609 324.69 L607 324.64 L605 324.55 L603 324.46 L601 324.41 L599 324.4 L597 324.42 L595 324.45 L593 324.49 L591 324.54 L589 324.61 L587 324.68 L585 324.76 L583 324.84 L581 324.93 L579 325.02 L577 325.11 L575 325.19 L573 325.28 L571 325.36 L569 325.44 L567 325.52 L565 325.61 L563 325.7 L561 325.8 L559 325.9 L557 326 L555 326.09 L553 326.19 L551 326.27 L549 326.36 L547 326.43 L545 326.5 L543 326.56 L541 326.63 L539 326.69 L537 326.76 L535 326.82 L533 326.88 L531 326.94 L529 326.99 L527 327.03 L525 327.06 L523 327.09 L521 327.1 L519 327.1 L517 327.07 L515 327.02 L513 326.95 L511 326.86 L509 326.76 L507 326.64 L505 326.52 L503 326.39 L501 326.26 L499 326.13 L497 325.98 L495 325.8 L493 325.6 L491 325.38 L489 325.15 L487 324.9 L485 324.64 L483 324.36 L481 324.08 L479 323.79 L477 323.5 L475 323.2 L473 322.89 L471 322.54 L469 322.17 L467 321.77 L465 321.36 L463 320.93 L461 320.5 L459 320.05 L457 319.61 L455 319.16 L453 318.72 L451 318.3 L449 317.89 L447 317.49 L445 317.12 L443 316.78 L441 316.46 L439 316.16 L437 315.86 L435 315.57 L433 315.29 L431 315.02 L429 314.76 L427 314.5 L425 314.24 L423 313.99 L421 313.74 L419 313.49 L417 313.25 L415 313.01 L413 312.76 L411 312.52 L409 312.27 L407 312.02 L405 311.76 L403 311.51 L401 311.26 L399 311.01 L397 310.76 L395 310.51 L393 310.27 L391 310.03 L389 309.8 L387 309.57 L385 309.36 L383 309.14 L381 308.94 L379 308.75 L377 308.57 L375 308.4 L373 308.24 L371 308.09 L369 307.94 L367 307.8 L365 307.66 L363 307.52 L361 307.39 L359 307.26 L357 307.14 L355 307.02 L353 306.9 L351 306.79 L349 306.69 L347 306.59 L345 306.5 L343 306.41 L341 306.33 L339 306.26 L337 306.2 Z"/></clipPath>
<clipPath id="cpxl"><rect x="0" y="400" width="1200" height="40.3"/></clipPath>
<clipPath id="cpins"><rect x="400" y="1580" width="400" height="30.8"/></clipPath>
</defs>
<line x1="140.7" x2="1049" y1="81.8" y2="81.8" stroke="#d4d4d4" stroke-width="1.3" stroke-dasharray="1.3 5.313"/>
<line x1="140.7" x2="1049" y1="155.0" y2="155.0" stroke="#d4d4d4" stroke-width="1.3" stroke-dasharray="1.3 5.313"/>
<line x1="140.7" x2="1049" y1="228.2" y2="228.2" stroke="#d4d4d4" stroke-width="1.3" stroke-dasharray="1.3 5.313"/>
<line x1="140.7" x2="1049" y1="301.7" y2="301.7" stroke="#d4d4d4" stroke-width="1.3" stroke-dasharray="1.3 5.313"/>
<line x1="571.3" x2="571.3" y1="9" y2="374" stroke="#999" stroke-width="3.3"/>
<g clip-path="url(#cpX1)">
<rect x="180" y="53.8" width="50.6" height="56" fill="#0088F8"/>
<rect x="230" y="53.8" width="50.6" height="56" fill="#0084F6"/>
<rect x="280" y="53.8" width="40.6" height="56" fill="#007CF2"/>
<rect x="320" y="53.8" width="15.6" height="56" fill="#0074EA"/>
<rect x="335" y="53.8" width="110.6" height="56" fill="#5060E0"/>
<rect x="445" y="53.8" width="22.6" height="56" fill="#5C5CDC"/>
<rect x="467" y="53.8" width="11.6" height="56" fill="#7050D0"/>
<rect x="478" y="53.8" width="22.6" height="56" fill="#8A3ABC"/>
<rect x="500" y="53.8" width="22.6" height="56" fill="#9036B8"/>
<rect x="522" y="53.8" width="12.6" height="56" fill="#9A2AB0"/>
<rect x="534" y="53.8" width="11.6" height="56" fill="#A022AA"/>
<rect x="545" y="53.8" width="11.6" height="56" fill="#AC14A4"/>
<rect x="556" y="53.8" width="10.6" height="56" fill="#BE00A0"/>
<rect x="566" y="53.8" width="89.6" height="56" fill="#D6008E"/>
<rect x="655" y="53.8" width="65.6" height="56" fill="#E60078"/>
<rect x="720" y="53.8" width="274.6" height="56" fill="#FF0050"/>
</g>
<circle cx="992" cy="81.8" r="3.3" fill="#FF0050"/>
<circle cx="996" cy="81.8" r="3.3" fill="#FF0050"/>
<circle cx="1000" cy="81.8" r="3.3" fill="#FF0050"/>
<circle cx="1007" cy="81.8" r="3.3" fill="#FF0050"/>
<g clip-path="url(#cpX4)">
<rect x="300" y="127" width="74.6" height="56" fill="#0070E8"/>
<rect x="374" y="127" width="16.6" height="56" fill="#6858D8"/>
<rect x="390" y="127" width="8.6" height="56" fill="#4868E4"/>
<rect x="398" y="127" width="17.6" height="56" fill="#5860DC"/>
<rect x="415" y="127" width="55.6" height="56" fill="#625AD8"/>
<rect x="470" y="127" width="12.6" height="56" fill="#7450CC"/>
<rect x="482" y="127" width="8.6" height="56" fill="#9438B4"/>
<rect x="490" y="127" width="17.6" height="56" fill="#B808A0"/>
<rect x="507" y="127" width="16.6" height="56" fill="#A818A4"/>
<rect x="523" y="127" width="24.6" height="56" fill="#A020A8"/>
<rect x="547" y="127" width="9.6" height="56" fill="#A818A4"/>
<rect x="556" y="127" width="9.6" height="56" fill="#B010A0"/>
<rect x="565" y="127" width="25.6" height="56" fill="#BC04A0"/>
<rect x="590" y="127" width="16.6" height="56" fill="#D8008C"/>
<rect x="606" y="127" width="8.6" height="56" fill="#F80060"/>
<rect x="614" y="127" width="36.6" height="56" fill="#F0006C"/>
<rect x="650" y="127" width="50.6" height="56" fill="#EC0070"/>
<rect x="700" y="127" width="60.6" height="56" fill="#F00068"/>
<rect x="760" y="127" width="73.1" height="56" fill="#F40064"/>
</g>
<circle cx="861.5" cy="155.0" r="3.3" fill="#F40064"/>
<circle cx="892.5" cy="155.0" r="3.3" fill="#F40064"/>
<circle cx="897.5" cy="155.0" r="3.3" fill="#F40064"/>
<g clip-path="url(#cpX2)">
<rect x="340" y="200.2" width="96.6" height="56" fill="#0088F8"/>
<rect x="436" y="200.2" width="6.6" height="56" fill="#0078F0"/>
<rect x="442" y="200.2" width="71.6" height="56" fill="#3468E8"/>
<rect x="513" y="200.2" width="18.6" height="56" fill="#4868E4"/>
<rect x="531" y="200.2" width="18.6" height="56" fill="#6858D8"/>
<rect x="549" y="200.2" width="7.6" height="56" fill="#8048C8"/>
<rect x="556" y="200.2" width="7.6" height="56" fill="#9830B0"/>
<rect x="563" y="200.2" width="15.6" height="56" fill="#A81CA4"/>
<rect x="578" y="200.2" width="19.6" height="56" fill="#B010A0"/>
<rect x="597" y="200.2" width="18.6" height="56" fill="#B808A0"/>
<rect x="615" y="200.2" width="10.6" height="56" fill="#D8008C"/>
<rect x="625" y="200.2" width="7.6" height="56" fill="#E40080"/>
<rect x="632" y="200.2" width="5.6" height="56" fill="#F00068"/>
<rect x="637" y="200.2" width="8.6" height="56" fill="#FA0058"/>
<rect x="645" y="200.2" width="169.1" height="56" fill="#FF0050"/>
</g>
<g clip-path="url(#cpX3)">
<rect x="330" y="273.7" width="13.6" height="56" fill="#2870E8"/>
<rect x="343" y="273.7" width="7.6" height="56" fill="#3A6AE6"/>
<rect x="350" y="273.7" width="15.6" height="56" fill="#5060E0"/>
<rect x="365" y="273.7" width="7.6" height="56" fill="#6858D8"/>
<rect x="372" y="273.7" width="13.6" height="56" fill="#8040C8"/>
<rect x="385" y="273.7" width="15.6" height="56" fill="#8C3CC0"/>
<rect x="400" y="273.7" width="15.6" height="56" fill="#9438B8"/>
<rect x="415" y="273.7" width="15.6" height="56" fill="#9030B8"/>
<rect x="430" y="273.7" width="7.6" height="56" fill="#9828B0"/>
<rect x="437" y="273.7" width="7.6" height="56" fill="#A020A8"/>
<rect x="444" y="273.7" width="14.6" height="56" fill="#9030B8"/>
<rect x="458" y="273.7" width="14.6" height="56" fill="#7848CC"/>
<rect x="472" y="273.7" width="22.6" height="56" fill="#8C38BC"/>
<rect x="494" y="273.7" width="7.6" height="56" fill="#9C2CB0"/>
<rect x="501" y="273.7" width="14.6" height="56" fill="#B010A0"/>
<rect x="515" y="273.7" width="8.6" height="56" fill="#B808A0"/>
<rect x="523" y="273.7" width="7.6" height="56" fill="#A020A8"/>
<rect x="530" y="273.7" width="7.6" height="56" fill="#8C3CC0"/>
<rect x="537" y="273.7" width="7.6" height="56" fill="#9C2CB0"/>
<rect x="544" y="273.7" width="7.6" height="56" fill="#8838BC"/>
<rect x="551" y="273.7" width="7.6" height="56" fill="#A020A8"/>
<rect x="558" y="273.7" width="8.6" height="56" fill="#9828B0"/>
<rect x="566" y="273.7" width="7.6" height="56" fill="#9030B8"/>
<rect x="573" y="273.7" width="14.6" height="56" fill="#7850D0"/>
<rect x="587" y="273.7" width="14.6" height="56" fill="#7050D0"/>
<rect x="601" y="273.7" width="7.6" height="56" fill="#5060E0"/>
<rect x="608" y="273.7" width="7.6" height="56" fill="#1C70EC"/>
<rect x="615" y="273.7" width="8.6" height="56" fill="#5060E0"/>
<rect x="623" y="273.7" width="28.6" height="56" fill="#7054D4"/>
<rect x="651" y="273.7" width="7.6" height="56" fill="#8048C8"/>
<rect x="658" y="273.7" width="15.6" height="56" fill="#8C3CC0"/>
<rect x="673" y="273.7" width="7.6" height="56" fill="#B010A0"/>
<rect x="680" y="273.7" width="8.6" height="56" fill="#C800A0"/>
<rect x="688" y="273.7" width="6.6" height="56" fill="#E00084"/>
<rect x="694" y="273.7" width="29.6" height="56" fill="#E80078"/>
<rect x="723" y="273.7" width="22.6" height="56" fill="#F4006A"/>
<rect x="745" y="273.7" width="96.1" height="56" fill="#F80060"/>
</g>
<circle cx="323.7" cy="301.7" r="3.3" fill="#0088F8"/>
<circle cx="333.2" cy="301.7" r="3.3" fill="#0088F8"/>
<line x1="139" x2="1048.5" y1="374.85" y2="374.85" stroke="#111" stroke-width="2.1"/>
<line x1="149.75" x2="149.75" y1="375.5" y2="382.5" stroke="#444" stroke-width="1.9"/>
<text class="b g" x="150.1" y="406" font-size="23.5" letter-spacing="0.7" text-anchor="middle">−15</text>
<line x1="290.1" x2="290.1" y1="375.5" y2="382.5" stroke="#444" stroke-width="1.9"/>
<text class="b g" x="290.45" y="406" font-size="23.5" letter-spacing="0.7" text-anchor="middle">−10</text>
<line x1="430.45" x2="430.45" y1="375.5" y2="382.5" stroke="#444" stroke-width="1.9"/>
<text class="b g" x="430.8" y="406" font-size="23.5" letter-spacing="0.7" text-anchor="middle">−5</text>
<line x1="570.8" x2="570.8" y1="375.5" y2="382.5" stroke="#444" stroke-width="1.9"/>
<text class="b g" x="570.8" y="406" font-size="23.5" letter-spacing="0" text-anchor="middle">0</text>
<line x1="711.15" x2="711.15" y1="375.5" y2="382.5" stroke="#444" stroke-width="1.9"/>
<text class="b g" x="711.15" y="406" font-size="23.5" letter-spacing="0" text-anchor="middle">5</text>
<line x1="851.5" x2="851.5" y1="375.5" y2="382.5" stroke="#444" stroke-width="1.9"/>
<text class="b g" x="851.85" y="406" font-size="23.5" letter-spacing="0.7" text-anchor="middle">10</text>
<line x1="991.85" x2="991.85" y1="375.5" y2="382.5" stroke="#444" stroke-width="1.9"/>
<text class="b g" x="992.2" y="406" font-size="23.5" letter-spacing="0.7" text-anchor="middle">15</text>
<text class="b g" x="53.7" y="92" font-size="28.6" letter-spacing="-0.6">X1</text>
<text class="b g" x="53.7" y="164.6" font-size="28.6" letter-spacing="-0.6">X4</text>
<text class="b g" x="53.7" y="237.8" font-size="28.6" letter-spacing="-0.6">X2</text>
<text class="b g" x="53.7" y="311" font-size="28.6" letter-spacing="-0.6">X3</text>
<g clip-path="url(#cpxl)"><text x="594.5" y="439.2" font-size="26.9" text-anchor="middle" fill="#1a1a1a">SHAP Value Impact</text></g>
<text x="2.6" y="440" font-size="33" fill="#111">(a)</text>
<rect x="1105.6" y="9" width="4.6" height="365.5" fill="url(#cba)"/>
<text class="b" x="1117.5" y="16.6" font-size="24" fill="#000">High</text>
<text class="b" x="1117.5" y="383" font-size="24" fill="#000">Low</text>
<text transform="translate(1187.6 191.9) rotate(-90)" font-size="27" text-anchor="middle" fill="#222">Feature value</text>
<!-- panel b -->
<line x1="104.75" x2="104.75" y1="464.5" y2="779" stroke="#808080" stroke-width="1.2"/>
<rect x="104" y="475.2" width="1042.5" height="48.8" fill="#000004"/>
<text class="b g" x="56.6" y="508.4" font-size="26">X1</text>
<rect x="104" y="545" width="657.5" height="48.7" fill="#721F81"/>
<text class="b g" x="56.6" y="578.15" font-size="26">X4</text>
<rect x="104" y="614.9" width="639" height="48.8" fill="#F1605D"/>
<text class="b g" x="56.6" y="648.1" font-size="26">X2</text>
<rect x="104" y="684.9" width="601.5" height="48.8" fill="#22B14C"/>
<text class="b g" x="56.6" y="718.1" font-size="26">X3</text>
<line x1="103" x2="1200" y1="779.25" y2="779.25" stroke="#111" stroke-width="1.95"/>
<line x1="103.9" x2="103.9" y1="779.5" y2="786.5" stroke="#333" stroke-width="1.75"/>
<text class="b g" x="103.9" y="809" font-size="22.5" text-anchor="middle">0</text>
<line x1="287.25" x2="287.25" y1="779.5" y2="786.5" stroke="#333" stroke-width="1.75"/>
<text class="b g" x="287.25" y="809" font-size="22.5" text-anchor="middle">1</text>
<line x1="470.6" x2="470.6" y1="779.5" y2="786.5" stroke="#333" stroke-width="1.75"/>
<text class="b g" x="470.6" y="809" font-size="22.5" text-anchor="middle">2</text>
<line x1="653.95" x2="653.95" y1="779.5" y2="786.5" stroke="#333" stroke-width="1.75"/>
<text class="b g" x="653.95" y="809" font-size="22.5" text-anchor="middle">3</text>
<line x1="837.3" x2="837.3" y1="779.5" y2="786.5" stroke="#333" stroke-width="1.75"/>
<text class="b g" x="837.3" y="809" font-size="22.5" text-anchor="middle">4</text>
<line x1="1020.65" x2="1020.65" y1="779.5" y2="786.5" stroke="#333" stroke-width="1.75"/>
<text class="b g" x="1020.65" y="809" font-size="22.5" text-anchor="middle">5</text>
<text x="651.3" y="839" font-size="24.9" text-anchor="middle" fill="#1a1a1a">Mean Absolute SHAP Value</text>
<text x="-1.6" y="850.3" font-size="33" fill="#111">(b)</text>
<!-- panel c -->
<g shape-rendering="crispEdges">
<rect x="281.8" y="1150.6" width="5.71" height="98.33" fill="#B2DCFE"/>
<rect x="287.11" y="1150.6" width="3.06" height="98.33" fill="#A8D8FE"/>
<rect x="289.77" y="1150.6" width="3.06" height="98.33" fill="#B2DCFE"/>
<rect x="292.42" y="1150.6" width="5.71" height="98.33" fill="#D9EEFE"/>
<rect x="297.73" y="1150.6" width="5.71" height="98.33" fill="#BFE2FE"/>
<rect x="303.05" y="1150.6" width="3.06" height="98.33" fill="#CCE8FE"/>
<rect x="305.7" y="1150.6" width="3.06" height="98.33" fill="#BFE2FE"/>
<rect x="308.36" y="1150.6" width="3.06" height="98.33" fill="#FFE6EE"/>
<rect x="311.01" y="1150.6" width="3.06" height="98.33" fill="#FFCCDC"/>
<rect x="313.67" y="1150.6" width="5.71" height="98.33" fill="#FF99B9"/>
<rect x="318.98" y="1150.6" width="3.06" height="98.33" fill="#FFCCDC"/>
<rect x="321.64" y="1150.6" width="3.06" height="98.33" fill="#FFBFD4"/>
<rect x="324.29" y="1150.6" width="3.06" height="98.33" fill="#FF99B9"/>
<rect x="326.95" y="1150.6" width="3.06" height="98.33" fill="#FFE6EE"/>
<rect x="329.6" y="1150.6" width="11.02" height="98.33" fill="#FFCCDC"/>
<rect x="340.23" y="1150.6" width="3.06" height="98.33" fill="#FFB2CB"/>
<rect x="342.88" y="1150.6" width="3.06" height="98.33" fill="#FF8CB1"/>
<rect x="345.54" y="1150.6" width="3.06" height="98.33" fill="#FF598E"/>
<rect x="348.2" y="1150.6" width="3.06" height="98.33" fill="#FF80A8"/>
<rect x="350.85" y="1150.6" width="8.37" height="98.33" fill="#FF99B9"/>
<rect x="358.82" y="1150.6" width="8.37" height="98.33" fill="#FFBFD4"/>
<rect x="366.79" y="1150.6" width="5.71" height="98.33" fill="#FF99B9"/>
<rect x="372.1" y="1150.6" width="3.06" height="98.33" fill="#FFBFD4"/>
<rect x="374.75" y="1150.6" width="5.71" height="98.33" fill="#FFCCDC"/>
<rect x="380.06" y="1150.6" width="5.71" height="98.33" fill="#FFBFD4"/>
<rect x="385.38" y="1150.6" width="3.06" height="98.33" fill="#FFA6C2"/>
<rect x="388.03" y="1150.6" width="3.06" height="98.33" fill="#FF80A8"/>
<rect x="390.69" y="1150.6" width="3.06" height="98.33" fill="#FF99B9"/>
<rect x="393.34" y="1150.6" width="3.06" height="98.33" fill="#FFB2CB"/>
<rect x="396" y="1150.6" width="3.06" height="98.33" fill="#FFBFD4"/>
<rect x="398.66" y="1150.6" width="8.37" height="98.33" fill="#FF99B9"/>
<rect x="406.62" y="1150.6" width="3.06" height="98.33" fill="#FFB2CB"/>
<rect x="409.28" y="1150.6" width="3.06" height="98.33" fill="#FFBFD4"/>
<rect x="411.93" y="1150.6" width="5.71" height="98.33" fill="#FF0D5A"/>
<rect x="417.25" y="1150.6" width="3.06" height="98.33" fill="#FF1A62"/>
<rect x="419.9" y="1150.6" width="8.37" height="98.33" fill="#FF407C"/>
<rect x="427.87" y="1150.6" width="5.71" height="98.33" fill="#FF4C85"/>
<rect x="433.18" y="1150.6" width="3.06" height="98.33" fill="#FF3374"/>
<rect x="435.84" y="1150.6" width="18.99" height="98.33" fill="#FF0051"/>
<rect x="454.43" y="1150.6" width="5.71" height="98.33" fill="#FF0D5A"/>
<rect x="459.74" y="1150.6" width="3.06" height="98.33" fill="#FF1A62"/>
<rect x="462.39" y="1150.6" width="11.02" height="98.33" fill="#FF407C"/>
<rect x="473.02" y="1150.6" width="11.02" height="98.33" fill="#FF0D5A"/>
<rect x="483.64" y="1150.6" width="3.06" height="98.33" fill="#FF6697"/>
<rect x="486.3" y="1150.6" width="13.68" height="98.33" fill="#FF80A8"/>
<rect x="499.58" y="1150.6" width="5.71" height="98.33" fill="#FFCCDC"/>
<rect x="504.89" y="1150.6" width="5.71" height="98.33" fill="#FFB2CB"/>
<rect x="510.2" y="1150.6" width="13.68" height="98.33" fill="#FF80A8"/>
<rect x="523.48" y="1150.6" width="3.06" height="98.33" fill="#FFB2CB"/>
<rect x="526.13" y="1150.6" width="3.06" height="98.33" fill="#FF598E"/>
<rect x="528.79" y="1150.6" width="3.06" height="98.33" fill="#FF407C"/>
<rect x="531.45" y="1150.6" width="3.06" height="98.33" fill="#FFCCDC"/>
<rect x="534.1" y="1150.6" width="3.06" height="98.33" fill="#FFD9E5"/>
<rect x="536.76" y="1150.6" width="5.71" height="98.33" fill="#FFCCDC"/>
<rect x="542.07" y="1150.6" width="3.06" height="98.33" fill="#CCE8FE"/>
<rect x="544.72" y="1150.6" width="5.71" height="98.33" fill="#99D1FD"/>
<rect x="550.04" y="1150.6" width="3.06" height="98.33" fill="#CCE8FE"/>
<rect x="552.69" y="1150.6" width="3.06" height="98.33" fill="#E6F3FF"/>
<rect x="555.35" y="1150.6" width="3.06" height="98.33" fill="#D9EEFE"/>
<rect x="558" y="1150.6" width="3.06" height="98.33" fill="#CCE8FE"/>
<rect x="560.66" y="1150.6" width="5.71" height="98.33" fill="#A6D6FE"/>
<rect x="565.97" y="1150.6" width="8.37" height="98.33" fill="#99D1FD"/>
<rect x="573.94" y="1150.6" width="8.37" height="98.33" fill="#D9EEFE"/>
<rect x="581.91" y="1150.6" width="3.06" height="98.33" fill="#CCE8FE"/>
<rect x="584.56" y="1150.6" width="3.06" height="98.33" fill="#A6D6FE"/>
<rect x="587.22" y="1150.6" width="5.71" height="98.33" fill="#B2DCFE"/>
<rect x="592.53" y="1150.6" width="3.06" height="98.33" fill="#FF80A8"/>
<rect x="595.18" y="1150.6" width="8.37" height="98.33" fill="#FFBFD4"/>
<rect x="603.15" y="1150.6" width="5.71" height="98.33" fill="#FF80A8"/>
<rect x="608.46" y="1150.6" width="3.06" height="98.33" fill="#FF8CB1"/>
<rect x="611.12" y="1150.6" width="5.71" height="98.33" fill="#FFBFD4"/>
<rect x="616.43" y="1150.6" width="3.06" height="98.33" fill="#FFCCDC"/>
<rect x="619.09" y="1150.6" width="3.06" height="98.33" fill="#E6F3FF"/>
<rect x="621.74" y="1150.6" width="3.06" height="98.33" fill="#D9EEFE"/>
<rect x="624.4" y="1150.6" width="3.06" height="98.33" fill="#CCE8FE"/>
<rect x="627.05" y="1150.6" width="3.06" height="98.33" fill="#99D1FD"/>
<rect x="629.71" y="1150.6" width="3.06" height="98.33" fill="#A6D6FE"/>
<rect x="632.37" y="1150.6" width="5.71" height="98.33" fill="#B2DCFE"/>
<rect x="637.68" y="1150.6" width="3.06" height="98.33" fill="#8CCBFD"/>
<rect x="640.33" y="1150.6" width="3.06" height="98.33" fill="#99D1FD"/>
<rect x="642.99" y="1150.6" width="8.37" height="98.33" fill="#E6F3FF"/>
<rect x="650.96" y="1150.6" width="5.71" height="98.33" fill="#F2F9FF"/>
<rect x="656.27" y="1150.6" width="3.06" height="98.33" fill="#B2DCFE"/>
<rect x="658.92" y="1150.6" width="3.06" height="98.33" fill="#73BFFD"/>
<rect x="661.58" y="1150.6" width="3.06" height="98.33" fill="#59B4FC"/>
<rect x="664.24" y="1150.6" width="3.06" height="98.33" fill="#66B9FD"/>
<rect x="666.89" y="1150.6" width="3.06" height="98.33" fill="#59B4FC"/>
<rect x="669.55" y="1150.6" width="3.06" height="98.33" fill="#66B9FD"/>
<rect x="672.2" y="1150.6" width="5.71" height="98.33" fill="#269CFC"/>
<rect x="677.51" y="1150.6" width="3.06" height="98.33" fill="#33A2FC"/>
<rect x="680.17" y="1150.6" width="3.06" height="98.33" fill="#40A8FC"/>
<rect x="682.83" y="1150.6" width="3.06" height="98.33" fill="#4CAEFC"/>
<rect x="685.48" y="1150.6" width="3.06" height="98.33" fill="#40A8FC"/>
<rect x="688.14" y="1150.6" width="5.71" height="98.33" fill="#1A97FB"/>
<rect x="693.45" y="1150.6" width="5.71" height="98.33" fill="#59B4FC"/>
<rect x="698.76" y="1150.6" width="3.06" height="98.33" fill="#73BFFD"/>
<rect x="701.42" y="1150.6" width="3.06" height="98.33" fill="#66B9FD"/>
<rect x="704.07" y="1150.6" width="5.71" height="98.33" fill="#33A2FC"/>
<rect x="709.38" y="1150.6" width="3.06" height="98.33" fill="#B2DCFE"/>
<rect x="712.04" y="1150.6" width="3.06" height="98.33" fill="#CCE8FE"/>
<rect x="714.7" y="1150.6" width="3.06" height="98.33" fill="#99D1FD"/>
<rect x="717.35" y="1150.6" width="3.06" height="98.33" fill="#D9EEFE"/>
<rect x="720.01" y="1150.6" width="3.06" height="98.33" fill="#CCE8FE"/>
<rect x="722.66" y="1150.6" width="3.06" height="98.33" fill="#BFE2FE"/>
<rect x="725.32" y="1150.6" width="3.06" height="98.33" fill="#CCE8FE"/>
<rect x="727.97" y="1150.6" width="3.06" height="98.33" fill="#D9EEFE"/>
<rect x="730.63" y="1150.6" width="3.06" height="98.33" fill="#CCE8FE"/>
<rect x="733.29" y="1150.6" width="5.71" height="98.33" fill="#BFE2FE"/>
<rect x="738.6" y="1150.6" width="3.06" height="98.33" fill="#B2DCFE"/>
<rect x="741.25" y="1150.6" width="3.06" height="98.33" fill="#BFE2FE"/>
<rect x="743.91" y="1150.6" width="3.06" height="98.33" fill="#99D1FD"/>
<rect x="746.57" y="1150.6" width="3.06" height="98.33" fill="#8CCBFD"/>
<rect x="749.22" y="1150.6" width="3.06" height="98.33" fill="#80C5FD"/>
<rect x="751.88" y="1150.6" width="3.06" height="98.33" fill="#269CFC"/>
<rect x="754.53" y="1150.6" width="3.06" height="98.33" fill="#33A2FC"/>
<rect x="757.19" y="1150.6" width="5.71" height="98.33" fill="#40A8FC"/>
<rect x="762.5" y="1150.6" width="3.06" height="98.33" fill="#269CFC"/>
<rect x="765.16" y="1150.6" width="5.71" height="98.33" fill="#1A97FB"/>
<rect x="770.47" y="1150.6" width="3.06" height="98.33" fill="#0D91FB"/>
<rect x="773.12" y="1150.6" width="3.06" height="98.33" fill="#B2DCFE"/>
<rect x="775.78" y="1150.6" width="5.71" height="98.33" fill="#BFE2FE"/>
<rect x="781.09" y="1150.6" width="3.06" height="98.33" fill="#CCE8FE"/>
<rect x="783.75" y="1150.6" width="8.37" height="98.33" fill="#99D1FD"/>
<rect x="791.71" y="1150.6" width="5.71" height="98.33" fill="#33A2FC"/>
<rect x="797.03" y="1150.6" width="3.06" height="98.33" fill="#269CFC"/>
<rect x="799.68" y="1150.6" width="3.06" height="98.33" fill="#1A97FB"/>
<rect x="802.34" y="1150.6" width="5.71" height="98.33" fill="#0D91FB"/>
<rect x="807.65" y="1150.6" width="3.06" height="98.33" fill="#1A97FB"/>
<rect x="810.3" y="1150.6" width="3.06" height="98.33" fill="#40A8FC"/>
<rect x="812.96" y="1150.6" width="3.06" height="98.33" fill="#73BFFD"/>
<rect x="815.62" y="1150.6" width="3.06" height="98.33" fill="#33A2FC"/>
<rect x="818.27" y="1150.6" width="3.06" height="98.33" fill="#269CFC"/>
<rect x="820.93" y="1150.6" width="3.06" height="98.33" fill="#33A2FC"/>
<rect x="823.58" y="1150.6" width="3.06" height="98.33" fill="#99D1FD"/>
<rect x="826.24" y="1150.6" width="3.06" height="98.33" fill="#A6D6FE"/>
<rect x="828.89" y="1150.6" width="3.06" height="98.33" fill="#B2DCFE"/>
<rect x="831.55" y="1150.6" width="3.06" height="98.33" fill="#80C5FD"/>
<rect x="834.21" y="1150.6" width="3.06" height="98.33" fill="#BFE2FE"/>
<rect x="836.86" y="1150.6" width="3.06" height="98.33" fill="#99D1FD"/>
<rect x="839.52" y="1150.6" width="3.06" height="98.33" fill="#8CCBFD"/>
<rect x="281.8" y="1248.63" width="5.71" height="98.33" fill="#E6F3FF"/>
<rect x="287.11" y="1248.63" width="3.06" height="98.33" fill="#D9EEFE"/>
<rect x="289.77" y="1248.63" width="3.06" height="98.33" fill="#B2DCFE"/>
<rect x="292.42" y="1248.63" width="3.06" height="98.33" fill="#BFE2FE"/>
<rect x="295.08" y="1248.63" width="3.06" height="98.33" fill="#D9EEFE"/>
<rect x="297.73" y="1248.63" width="3.06" height="98.33" fill="#CCE8FE"/>
<rect x="300.39" y="1248.63" width="3.06" height="98.33" fill="#E6F3FF"/>
<rect x="303.05" y="1248.63" width="3.06" height="98.33" fill="#CCE8FE"/>
<rect x="305.7" y="1248.63" width="3.06" height="98.33" fill="#BFE2FE"/>
<rect x="308.36" y="1248.63" width="3.06" height="98.33" fill="#CCE8FE"/>
<rect x="311.01" y="1248.63" width="3.06" height="98.33" fill="#E6F3FF"/>
<rect x="313.67" y="1248.63" width="3.06" height="98.33" fill="#F2F9FF"/>
<rect x="316.33" y="1248.63" width="3.06" height="98.33" fill="#FFFAFC"/>
<rect x="318.98" y="1248.63" width="3.06" height="98.33" fill="#FFFFFF"/>
<rect x="321.64" y="1248.63" width="3.06" height="98.33" fill="#E6F3FF"/>
<rect x="324.29" y="1248.63" width="3.06" height="98.33" fill="#D9EEFE"/>
<rect x="326.95" y="1248.63" width="3.06" height="98.33" fill="#E6F3FF"/>
<rect x="329.6" y="1248.63" width="3.06" height="98.33" fill="#FFFFFF"/>
<rect x="332.26" y="1248.63" width="8.37" height="98.33" fill="#FFCCDC"/>
<rect x="340.23" y="1248.63" width="3.06" height="98.33" fill="#80C5FD"/>
<rect x="342.88" y="1248.63" width="3.06" height="98.33" fill="#99D1FD"/>
<rect x="345.54" y="1248.63" width="11.02" height="98.33" fill="#80C5FD"/>
<rect x="356.16" y="1248.63" width="3.06" height="98.33" fill="#66B9FD"/>
<rect x="358.82" y="1248.63" width="5.71" height="98.33" fill="#59B4FC"/>
<rect x="364.13" y="1248.63" width="3.06" height="98.33" fill="#40A8FC"/>
<rect x="366.79" y="1248.63" width="3.06" height="98.33" fill="#4CAEFC"/>
<rect x="369.44" y="1248.63" width="11.02" height="98.33" fill="#CCE8FE"/>
<rect x="380.06" y="1248.63" width="3.06" height="98.33" fill="#E6F3FF"/>
<rect x="382.72" y="1248.63" width="8.37" height="98.33" fill="#BFE2FE"/>
<rect x="390.69" y="1248.63" width="5.71" height="98.33" fill="#99D1FD"/>
<rect x="396" y="1248.63" width="3.06" height="98.33" fill="#8CCBFD"/>
<rect x="398.66" y="1248.63" width="3.06" height="98.33" fill="#99D1FD"/>
<rect x="401.31" y="1248.63" width="5.71" height="98.33" fill="#A6D6FE"/>
<rect x="406.62" y="1248.63" width="5.71" height="98.33" fill="#CCE8FE"/>
<rect x="411.93" y="1248.63" width="8.37" height="98.33" fill="#B2DCFE"/>
<rect x="419.9" y="1248.63" width="5.71" height="98.33" fill="#A6D6FE"/>
<rect x="425.21" y="1248.63" width="3.06" height="98.33" fill="#B2DCFE"/>
<rect x="427.87" y="1248.63" width="8.37" height="98.33" fill="#8CCBFD"/>
<rect x="435.84" y="1248.63" width="3.06" height="98.33" fill="#99D1FD"/>
<rect x="438.49" y="1248.63" width="5.71" height="98.33" fill="#A6D6FE"/>
<rect x="443.8" y="1248.63" width="5.71" height="98.33" fill="#99D1FD"/>
<rect x="449.12" y="1248.63" width="3.06" height="98.33" fill="#FFE6EE"/>
<rect x="451.77" y="1248.63" width="8.37" height="98.33" fill="#FFBFD4"/>
<rect x="459.74" y="1248.63" width="5.71" height="98.33" fill="#FFE6EE"/>
<rect x="465.05" y="1248.63" width="5.71" height="98.33" fill="#FFFFFF"/>
<rect x="470.36" y="1248.63" width="3.06" height="98.33" fill="#FFCCDC"/>
<rect x="473.02" y="1248.63" width="3.06" height="98.33" fill="#F2F9FF"/>
<rect x="475.67" y="1248.63" width="5.71" height="98.33" fill="#FFE6EE"/>
<rect x="480.99" y="1248.63" width="3.06" height="98.33" fill="#D9EEFE"/>
<rect x="483.64" y="1248.63" width="11.02" height="98.33" fill="#FFD9E5"/>
<rect x="494.26" y="1248.63" width="3.06" height="98.33" fill="#FFCCDC"/>
<rect x="496.92" y="1248.63" width="3.06" height="98.33" fill="#D9EEFE"/>
<rect x="499.58" y="1248.63" width="3.06" height="98.33" fill="#FFCCDC"/>
<rect x="502.23" y="1248.63" width="3.06" height="98.33" fill="#FFD9E5"/>
<rect x="504.89" y="1248.63" width="3.06" height="98.33" fill="#FFE6EE"/>
<rect x="507.54" y="1248.63" width="3.06" height="98.33" fill="#FFB2CB"/>
<rect x="510.2" y="1248.63" width="3.06" height="98.33" fill="#FF80A8"/>
<rect x="512.85" y="1248.63" width="3.06" height="98.33" fill="#FF99B9"/>
<rect x="515.51" y="1248.63" width="5.71" height="98.33" fill="#FFE6EE"/>
<rect x="520.82" y="1248.63" width="5.71" height="98.33" fill="#FFBFD4"/>
<rect x="526.13" y="1248.63" width="3.06" height="98.33" fill="#E6F3FF"/>
<rect x="528.79" y="1248.63" width="21.65" height="98.33" fill="#CCE8FE"/>
<rect x="550.04" y="1248.63" width="3.06" height="98.33" fill="#D9EEFE"/>
<rect x="552.69" y="1248.63" width="3.06" height="98.33" fill="#FFFFFF"/>
<rect x="555.35" y="1248.63" width="3.06" height="98.33" fill="#FFCCDC"/>
<rect x="558" y="1248.63" width="3.06" height="98.33" fill="#FFB2CB"/>
<rect x="560.66" y="1248.63" width="3.06" height="98.33" fill="#FFA6C2"/>
<rect x="563.31" y="1248.63" width="3.06" height="98.33" fill="#FFCCDC"/>
<rect x="565.97" y="1248.63" width="3.06" height="98.33" fill="#FFF2F6"/>
<rect x="568.63" y="1248.63" width="3.06" height="98.33" fill="#FFD9E5"/>
<rect x="571.28" y="1248.63" width="3.06" height="98.33" fill="#FFBFD4"/>
<rect x="573.94" y="1248.63" width="3.06" height="98.33" fill="#CCE8FE"/>
<rect x="576.59" y="1248.63" width="3.06" height="98.33" fill="#D9EEFE"/>
<rect x="579.25" y="1248.63" width="5.71" height="98.33" fill="#FFD9E5"/>
<rect x="584.56" y="1248.63" width="3.06" height="98.33" fill="#FFBFD4"/>
<rect x="587.22" y="1248.63" width="3.06" height="98.33" fill="#FFE6EE"/>
<rect x="589.87" y="1248.63" width="3.06" height="98.33" fill="#FFF2F6"/>
<rect x="592.53" y="1248.63" width="11.02" height="98.33" fill="#FFD9E5"/>
<rect x="603.15" y="1248.63" width="3.06" height="98.33" fill="#FF8CB1"/>
<rect x="605.81" y="1248.63" width="3.06" height="98.33" fill="#FF80A8"/>
<rect x="608.46" y="1248.63" width="5.71" height="98.33" fill="#FF8CB1"/>
<rect x="613.78" y="1248.63" width="3.06" height="98.33" fill="#FF80A8"/>
<rect x="616.43" y="1248.63" width="5.71" height="98.33" fill="#FF598E"/>
<rect x="621.74" y="1248.63" width="3.06" height="98.33" fill="#FF6697"/>
<rect x="624.4" y="1248.63" width="5.71" height="98.33" fill="#FF739F"/>
<rect x="629.71" y="1248.63" width="3.06" height="98.33" fill="#FF598E"/>
<rect x="632.37" y="1248.63" width="3.06" height="98.33" fill="#FF0D5A"/>
<rect x="635.02" y="1248.63" width="3.06" height="98.33" fill="#FF0051"/>
<rect x="637.68" y="1248.63" width="3.06" height="98.33" fill="#FF0D5A"/>
<rect x="640.33" y="1248.63" width="3.06" height="98.33" fill="#FF407C"/>
<rect x="642.99" y="1248.63" width="3.06" height="98.33" fill="#FF6697"/>
<rect x="645.64" y="1248.63" width="24.3" height="98.33" fill="#FF739F"/>
<rect x="669.55" y="1248.63" width="3.06" height="98.33" fill="#FF6697"/>
<rect x="672.2" y="1248.63" width="3.06" height="98.33" fill="#FFA6C2"/>
<rect x="674.86" y="1248.63" width="3.06" height="98.33" fill="#FF80A8"/>
<rect x="677.51" y="1248.63" width="3.06" height="98.33" fill="#FF739F"/>
<rect x="680.17" y="1248.63" width="5.71" height="98.33" fill="#FF8CB1"/>
<rect x="685.48" y="1248.63" width="5.71" height="98.33" fill="#FF739F"/>
<rect x="690.79" y="1248.63" width="3.06" height="98.33" fill="#FF80A8"/>
<rect x="693.45" y="1248.63" width="3.06" height="98.33" fill="#FFCCDC"/>
<rect x="696.1" y="1248.63" width="5.71" height="98.33" fill="#D9EEFE"/>
<rect x="701.42" y="1248.63" width="3.06" height="98.33" fill="#FFE6EE"/>
<rect x="704.07" y="1248.63" width="5.71" height="98.33" fill="#FFB2CB"/>
<rect x="709.38" y="1248.63" width="3.06" height="98.33" fill="#FFF2F6"/>
<rect x="712.04" y="1248.63" width="3.06" height="98.33" fill="#FF99B9"/>
<rect x="714.7" y="1248.63" width="3.06" height="98.33" fill="#FF8CB1"/>
<rect x="717.35" y="1248.63" width="3.06" height="98.33" fill="#FF80A8"/>
<rect x="720.01" y="1248.63" width="3.06" height="98.33" fill="#FF8CB1"/>
<rect x="722.66" y="1248.63" width="3.06" height="98.33" fill="#FFB2CB"/>
<rect x="725.32" y="1248.63" width="3.06" height="98.33" fill="#FFD9E5"/>
<rect x="727.97" y="1248.63" width="3.06" height="98.33" fill="#FFE6EE"/>
<rect x="730.63" y="1248.63" width="5.71" height="98.33" fill="#CCE8FE"/>
<rect x="735.94" y="1248.63" width="3.06" height="98.33" fill="#B2DCFE"/>
<rect x="738.6" y="1248.63" width="3.06" height="98.33" fill="#E6F3FF"/>
<rect x="741.25" y="1248.63" width="3.06" height="98.33" fill="#D9EEFE"/>
<rect x="743.91" y="1248.63" width="3.06" height="98.33" fill="#CCE8FE"/>
<rect x="746.57" y="1248.63" width="3.06" height="98.33" fill="#FF80A8"/>
<rect x="749.22" y="1248.63" width="3.06" height="98.33" fill="#FFCCDC"/>
<rect x="751.88" y="1248.63" width="8.37" height="98.33" fill="#FFA6C2"/>
<rect x="759.84" y="1248.63" width="3.06" height="98.33" fill="#FFD9E5"/>
<rect x="762.5" y="1248.63" width="3.06" height="98.33" fill="#FFF2F6"/>
<rect x="765.16" y="1248.63" width="3.06" height="98.33" fill="#CCE8FE"/>
<rect x="767.81" y="1248.63" width="3.06" height="98.33" fill="#BFE2FE"/>
<rect x="770.47" y="1248.63" width="3.06" height="98.33" fill="#B2DCFE"/>
<rect x="773.12" y="1248.63" width="3.06" height="98.33" fill="#40A8FC"/>
<rect x="775.78" y="1248.63" width="5.71" height="98.33" fill="#66B9FD"/>
<rect x="781.09" y="1248.63" width="16.33" height="98.33" fill="#CCE8FE"/>
<rect x="797.03" y="1248.63" width="3.06" height="98.33" fill="#33A2FC"/>
<rect x="799.68" y="1248.63" width="3.06" height="98.33" fill="#269CFC"/>
<rect x="802.34" y="1248.63" width="3.06" height="98.33" fill="#FFFFFF"/>
<rect x="804.99" y="1248.63" width="3.06" height="98.33" fill="#D9EEFE"/>
<rect x="807.65" y="1248.63" width="5.71" height="98.33" fill="#CCE8FE"/>
<rect x="812.96" y="1248.63" width="5.71" height="98.33" fill="#E6F3FF"/>
<rect x="818.27" y="1248.63" width="3.06" height="98.33" fill="#CCE8FE"/>
<rect x="820.93" y="1248.63" width="3.06" height="98.33" fill="#4CAEFC"/>
<rect x="823.58" y="1248.63" width="3.06" height="98.33" fill="#40A8FC"/>
<rect x="826.24" y="1248.63" width="8.37" height="98.33" fill="#66B9FD"/>
<rect x="834.21" y="1248.63" width="8.37" height="98.33" fill="#BFE2FE"/>
<rect x="281.8" y="1346.66" width="3.06" height="98.33" fill="#66B9FD"/>
<rect x="284.46" y="1346.66" width="3.06" height="98.33" fill="#73BFFD"/>
<rect x="287.11" y="1346.66" width="3.06" height="98.33" fill="#80C5FD"/>
<rect x="289.77" y="1346.66" width="8.37" height="98.33" fill="#E6F3FF"/>
<rect x="297.73" y="1346.66" width="5.71" height="98.33" fill="#F2F9FF"/>
<rect x="303.05" y="1346.66" width="3.06" height="98.33" fill="#8CCBFD"/>
<rect x="305.7" y="1346.66" width="3.06" height="98.33" fill="#99D1FD"/>
<rect x="308.36" y="1346.66" width="3.06" height="98.33" fill="#8CCBFD"/>
<rect x="311.01" y="1346.66" width="5.71" height="98.33" fill="#A6D6FE"/>
<rect x="316.33" y="1346.66" width="3.06" height="98.33" fill="#B2DCFE"/>
<rect x="318.98" y="1346.66" width="5.71" height="98.33" fill="#D9EEFE"/>
<rect x="324.29" y="1346.66" width="3.06" height="98.33" fill="#8CCBFD"/>
<rect x="326.95" y="1346.66" width="8.37" height="98.33" fill="#73BFFD"/>
<rect x="334.92" y="1346.66" width="11.02" height="98.33" fill="#80C5FD"/>
<rect x="345.54" y="1346.66" width="3.06" height="98.33" fill="#8CCBFD"/>
<rect x="348.2" y="1346.66" width="3.06" height="98.33" fill="#D9EEFE"/>
<rect x="350.85" y="1346.66" width="8.37" height="98.33" fill="#E6F3FF"/>
<rect x="358.82" y="1346.66" width="3.06" height="98.33" fill="#FF99B9"/>
<rect x="361.47" y="1346.66" width="3.06" height="98.33" fill="#FFB2CB"/>
<rect x="364.13" y="1346.66" width="11.02" height="98.33" fill="#FFBFD4"/>
<rect x="374.75" y="1346.66" width="3.06" height="98.33" fill="#FFA6C2"/>
<rect x="377.41" y="1346.66" width="5.71" height="98.33" fill="#FFB2CB"/>
<rect x="382.72" y="1346.66" width="3.06" height="98.33" fill="#FFA6C2"/>
<rect x="385.38" y="1346.66" width="11.02" height="98.33" fill="#FFB2CB"/>
<rect x="396" y="1346.66" width="8.37" height="98.33" fill="#FF739F"/>
<rect x="403.97" y="1346.66" width="5.71" height="98.33" fill="#FF4C85"/>
<rect x="409.28" y="1346.66" width="3.06" height="98.33" fill="#FF80A8"/>
<rect x="411.93" y="1346.66" width="3.06" height="98.33" fill="#FFB2CB"/>
<rect x="414.59" y="1346.66" width="3.06" height="98.33" fill="#FF99B9"/>
<rect x="417.25" y="1346.66" width="8.37" height="98.33" fill="#FFB2CB"/>
<rect x="425.21" y="1346.66" width="3.06" height="98.33" fill="#FF80A8"/>
<rect x="427.87" y="1346.66" width="5.71" height="98.33" fill="#E6F3FF"/>
<rect x="433.18" y="1346.66" width="5.71" height="98.33" fill="#D9EEFE"/>
<rect x="438.49" y="1346.66" width="3.06" height="98.33" fill="#E6F3FF"/>
<rect x="441.15" y="1346.66" width="3.06" height="98.33" fill="#D9EEFE"/>
<rect x="443.8" y="1346.66" width="5.71" height="98.33" fill="#99D1FD"/>
<rect x="449.12" y="1346.66" width="5.71" height="98.33" fill="#B2DCFE"/>
<rect x="454.43" y="1346.66" width="3.06" height="98.33" fill="#BFE2FE"/>
<rect x="457.08" y="1346.66" width="8.37" height="98.33" fill="#E6F3FF"/>
<rect x="465.05" y="1346.66" width="8.37" height="98.33" fill="#D9EEFE"/>
<rect x="473.02" y="1346.66" width="3.06" height="98.33" fill="#99D1FD"/>
<rect x="475.67" y="1346.66" width="3.06" height="98.33" fill="#A6D6FE"/>
<rect x="478.33" y="1346.66" width="5.71" height="98.33" fill="#99D1FD"/>
<rect x="483.64" y="1346.66" width="5.71" height="98.33" fill="#FFBFD4"/>
<rect x="488.95" y="1346.66" width="3.06" height="98.33" fill="#FFB2CB"/>
<rect x="491.61" y="1346.66" width="5.71" height="98.33" fill="#FF739F"/>
<rect x="496.92" y="1346.66" width="3.06" height="98.33" fill="#FF80A8"/>
<rect x="499.58" y="1346.66" width="3.06" height="98.33" fill="#FF739F"/>
<rect x="502.23" y="1346.66" width="11.02" height="98.33" fill="#FFBFD4"/>
<rect x="512.85" y="1346.66" width="3.06" height="98.33" fill="#F2F9FF"/>
<rect x="515.51" y="1346.66" width="3.06" height="98.33" fill="#E6F3FF"/>
<rect x="518.17" y="1346.66" width="8.37" height="98.33" fill="#D9EEFE"/>
<rect x="526.13" y="1346.66" width="3.06" height="98.33" fill="#FFFFFF"/>
<rect x="528.79" y="1346.66" width="3.06" height="98.33" fill="#F7FCFF"/>
<rect x="531.45" y="1346.66" width="5.71" height="98.33" fill="#E6F3FF"/>
<rect x="536.76" y="1346.66" width="3.06" height="98.33" fill="#FFCCDC"/>
<rect x="539.41" y="1346.66" width="8.37" height="98.33" fill="#FFA6C2"/>
<rect x="547.38" y="1346.66" width="8.37" height="98.33" fill="#FF739F"/>
<rect x="555.35" y="1346.66" width="5.71" height="98.33" fill="#FF99B9"/>
<rect x="560.66" y="1346.66" width="5.71" height="98.33" fill="#FFB2CB"/>
<rect x="565.97" y="1346.66" width="3.06" height="98.33" fill="#FF6697"/>
<rect x="568.63" y="1346.66" width="3.06" height="98.33" fill="#FF739F"/>
<rect x="571.28" y="1346.66" width="3.06" height="98.33" fill="#FF80A8"/>
<rect x="573.94" y="1346.66" width="8.37" height="98.33" fill="#EDF7FF"/>
<rect x="581.91" y="1346.66" width="3.06" height="98.33" fill="#A6D6FE"/>
<rect x="584.56" y="1346.66" width="3.06" height="98.33" fill="#99D1FD"/>
<rect x="587.22" y="1346.66" width="3.06" height="98.33" fill="#8CCBFD"/>
<rect x="589.87" y="1346.66" width="3.06" height="98.33" fill="#73BFFD"/>
<rect x="592.53" y="1346.66" width="5.71" height="98.33" fill="#E6F3FF"/>
<rect x="597.84" y="1346.66" width="3.06" height="98.33" fill="#EDF7FF"/>
<rect x="600.5" y="1346.66" width="5.71" height="98.33" fill="#A6D6FE"/>
<rect x="605.81" y="1346.66" width="5.71" height="98.33" fill="#B2DCFE"/>
<rect x="611.12" y="1346.66" width="3.06" height="98.33" fill="#A6D6FE"/>
<rect x="613.78" y="1346.66" width="5.71" height="98.33" fill="#99D1FD"/>
<rect x="619.09" y="1346.66" width="3.06" height="98.33" fill="#E6F3FF"/>
<rect x="621.74" y="1346.66" width="8.37" height="98.33" fill="#99D1FD"/>
<rect x="629.71" y="1346.66" width="3.06" height="98.33" fill="#A6D6FE"/>
<rect x="632.37" y="1346.66" width="3.06" height="98.33" fill="#B2DCFE"/>
<rect x="635.02" y="1346.66" width="3.06" height="98.33" fill="#D9EEFE"/>
<rect x="637.68" y="1346.66" width="3.06" height="98.33" fill="#FFD9E5"/>
<rect x="640.33" y="1346.66" width="3.06" height="98.33" fill="#F2F9FF"/>
<rect x="642.99" y="1346.66" width="8.37" height="98.33" fill="#EDF7FF"/>
<rect x="650.96" y="1346.66" width="8.37" height="98.33" fill="#FFBFD4"/>
<rect x="658.92" y="1346.66" width="3.06" height="98.33" fill="#FFB2CB"/>
<rect x="661.58" y="1346.66" width="3.06" height="98.33" fill="#FFE6EE"/>
<rect x="664.24" y="1346.66" width="3.06" height="98.33" fill="#BFE2FE"/>
<rect x="666.89" y="1346.66" width="5.71" height="98.33" fill="#E6F3FF"/>
<rect x="672.2" y="1346.66" width="5.71" height="98.33" fill="#FFD9E5"/>
<rect x="677.51" y="1346.66" width="5.71" height="98.33" fill="#D9EEFE"/>
<rect x="682.83" y="1346.66" width="3.06" height="98.33" fill="#BFE2FE"/>
<rect x="685.48" y="1346.66" width="3.06" height="98.33" fill="#B2DCFE"/>
<rect x="688.14" y="1346.66" width="3.06" height="98.33" fill="#CCE8FE"/>
<rect x="690.79" y="1346.66" width="3.06" height="98.33" fill="#D9EEFE"/>
<rect x="693.45" y="1346.66" width="5.71" height="98.33" fill="#A6D6FE"/>
<rect x="698.76" y="1346.66" width="5.71" height="98.33" fill="#99D1FD"/>
<rect x="704.07" y="1346.66" width="5.71" height="98.33" fill="#A6D6FE"/>
<rect x="709.38" y="1346.66" width="5.71" height="98.33" fill="#E6F3FF"/>
<rect x="714.7" y="1346.66" width="3.06" height="98.33" fill="#EDF7FF"/>
<rect x="717.35" y="1346.66" width="3.06" height="98.33" fill="#FFBFD4"/>
<rect x="720.01" y="1346.66" width="5.71" height="98.33" fill="#FF8CB1"/>
<rect x="725.32" y="1346.66" width="3.06" height="98.33" fill="#FF99B9"/>
<rect x="727.97" y="1346.66" width="3.06" height="98.33" fill="#FFBFD4"/>
<rect x="730.63" y="1346.66" width="3.06" height="98.33" fill="#FFD9E5"/>
<rect x="733.29" y="1346.66" width="3.06" height="98.33" fill="#FF99B9"/>
<rect x="735.94" y="1346.66" width="3.06" height="98.33" fill="#FF80A8"/>
<rect x="738.6" y="1346.66" width="3.06" height="98.33" fill="#FF8CB1"/>
<rect x="741.25" y="1346.66" width="3.06" height="98.33" fill="#FF99B9"/>
<rect x="743.91" y="1346.66" width="8.37" height="98.33" fill="#FFBFD4"/>
<rect x="751.88" y="1346.66" width="3.06" height="98.33" fill="#FFB2CB"/>
<rect x="754.53" y="1346.66" width="5.71" height="98.33" fill="#FF80A8"/>
<rect x="759.84" y="1346.66" width="8.37" height="98.33" fill="#FF8CB1"/>
<rect x="767.81" y="1346.66" width="3.06" height="98.33" fill="#FF80A8"/>
<rect x="770.47" y="1346.66" width="3.06" height="98.33" fill="#FFD9E5"/>
<rect x="773.12" y="1346.66" width="3.06" height="98.33" fill="#FF99B9"/>
<rect x="775.78" y="1346.66" width="11.02" height="98.33" fill="#FFB2CB"/>
<rect x="786.4" y="1346.66" width="11.02" height="98.33" fill="#FF739F"/>
<rect x="797.03" y="1346.66" width="5.71" height="98.33" fill="#FF80A8"/>
<rect x="802.34" y="1346.66" width="5.71" height="98.33" fill="#FFD9E5"/>
<rect x="807.65" y="1346.66" width="3.06" height="98.33" fill="#FFE6EE"/>
<rect x="810.3" y="1346.66" width="5.71" height="98.33" fill="#E6F3FF"/>
<rect x="815.62" y="1346.66" width="3.06" height="98.33" fill="#A6D6FE"/>
<rect x="818.27" y="1346.66" width="3.06" height="98.33" fill="#E6F3FF"/>
<rect x="820.93" y="1346.66" width="3.06" height="98.33" fill="#D9EEFE"/>
<rect x="823.58" y="1346.66" width="3.06" height="98.33" fill="#99D1FD"/>
<rect x="826.24" y="1346.66" width="3.06" height="98.33" fill="#EDF7FF"/>
<rect x="828.89" y="1346.66" width="5.71" height="98.33" fill="#F2F9FF"/>
<rect x="834.21" y="1346.66" width="3.06" height="98.33" fill="#EDF7FF"/>
<rect x="836.86" y="1346.66" width="3.06" height="98.33" fill="#E6F3FF"/>
<rect x="839.52" y="1346.66" width="3.06" height="98.33" fill="#D9EEFE"/>
<rect x="281.8" y="1444.69" width="3.06" height="98.33" fill="#FFD9E5"/>
<rect x="284.46" y="1444.69" width="8.37" height="98.33" fill="#F7FCFF"/>
<rect x="292.42" y="1444.69" width="3.06" height="98.33" fill="#EDF7FF"/>
<rect x="295.08" y="1444.69" width="3.06" height="98.33" fill="#BFE2FE"/>
<rect x="297.73" y="1444.69" width="5.71" height="98.33" fill="#CCE8FE"/>
<rect x="303.05" y="1444.69" width="3.06" height="98.33" fill="#99D1FD"/>
<rect x="305.7" y="1444.69" width="3.06" height="98.33" fill="#BFE2FE"/>
<rect x="308.36" y="1444.69" width="3.06" height="98.33" fill="#B2DCFE"/>
<rect x="311.01" y="1444.69" width="3.06" height="98.33" fill="#A6D6FE"/>
<rect x="313.67" y="1444.69" width="3.06" height="98.33" fill="#B2DCFE"/>
<rect x="316.33" y="1444.69" width="3.06" height="98.33" fill="#E6F3FF"/>
<rect x="318.98" y="1444.69" width="3.06" height="98.33" fill="#FAFDFF"/>
<rect x="321.64" y="1444.69" width="8.37" height="98.33" fill="#FFD9E5"/>
<rect x="329.6" y="1444.69" width="3.06" height="98.33" fill="#F2F9FF"/>
<rect x="332.26" y="1444.69" width="3.06" height="98.33" fill="#FFF2F6"/>
<rect x="334.92" y="1444.69" width="3.06" height="98.33" fill="#FFCCDC"/>
<rect x="337.57" y="1444.69" width="3.06" height="98.33" fill="#FFBFD4"/>
<rect x="340.23" y="1444.69" width="13.68" height="98.33" fill="#BFE2FE"/>
<rect x="353.51" y="1444.69" width="3.06" height="98.33" fill="#CCE8FE"/>
<rect x="356.16" y="1444.69" width="3.06" height="98.33" fill="#A6D6FE"/>
<rect x="358.82" y="1444.69" width="5.71" height="98.33" fill="#40A8FC"/>
<rect x="364.13" y="1444.69" width="3.06" height="98.33" fill="#80C5FD"/>
<rect x="366.79" y="1444.69" width="3.06" height="98.33" fill="#8CCBFD"/>
<rect x="369.44" y="1444.69" width="5.71" height="98.33" fill="#99D1FD"/>
<rect x="374.75" y="1444.69" width="3.06" height="98.33" fill="#8CCBFD"/>
<rect x="377.41" y="1444.69" width="3.06" height="98.33" fill="#73BFFD"/>
<rect x="380.06" y="1444.69" width="3.06" height="98.33" fill="#CCE8FE"/>
<rect x="382.72" y="1444.69" width="8.37" height="98.33" fill="#BFE2FE"/>
<rect x="390.69" y="1444.69" width="5.71" height="98.33" fill="#D9EEFE"/>
<rect x="396" y="1444.69" width="5.71" height="98.33" fill="#BFE2FE"/>
<rect x="401.31" y="1444.69" width="3.06" height="98.33" fill="#E6F3FF"/>
<rect x="403.97" y="1444.69" width="3.06" height="98.33" fill="#F7FCFF"/>
<rect x="406.62" y="1444.69" width="3.06" height="98.33" fill="#E6F3FF"/>
<rect x="409.28" y="1444.69" width="5.71" height="98.33" fill="#FFF7FA"/>
<rect x="414.59" y="1444.69" width="3.06" height="98.33" fill="#E6F3FF"/>
<rect x="417.25" y="1444.69" width="3.06" height="98.33" fill="#BFE2FE"/>
<rect x="419.9" y="1444.69" width="3.06" height="98.33" fill="#CCE8FE"/>
<rect x="422.56" y="1444.69" width="8.37" height="98.33" fill="#E6F3FF"/>
<rect x="430.52" y="1444.69" width="8.37" height="98.33" fill="#BFE2FE"/>
<rect x="438.49" y="1444.69" width="3.06" height="98.33" fill="#E6F3FF"/>
<rect x="441.15" y="1444.69" width="3.06" height="98.33" fill="#D9EEFE"/>
<rect x="443.8" y="1444.69" width="3.06" height="98.33" fill="#E6F3FF"/>
<rect x="446.46" y="1444.69" width="3.06" height="98.33" fill="#D9EEFE"/>
<rect x="449.12" y="1444.69" width="3.06" height="98.33" fill="#FFF7FA"/>
<rect x="451.77" y="1444.69" width="3.06" height="98.33" fill="#FFF2F6"/>
<rect x="454.43" y="1444.69" width="3.06" height="98.33" fill="#FFFFFF"/>
<rect x="457.08" y="1444.69" width="3.06" height="98.33" fill="#F2F9FF"/>
<rect x="459.74" y="1444.69" width="5.71" height="98.33" fill="#FFD9E5"/>
<rect x="465.05" y="1444.69" width="5.71" height="98.33" fill="#F7FCFF"/>
<rect x="470.36" y="1444.69" width="3.06" height="98.33" fill="#E6F3FF"/>
<rect x="473.02" y="1444.69" width="3.06" height="98.33" fill="#FFF7FA"/>
<rect x="475.67" y="1444.69" width="3.06" height="98.33" fill="#FFE6EE"/>
<rect x="478.33" y="1444.69" width="5.71" height="98.33" fill="#FFBFD4"/>
<rect x="483.64" y="1444.69" width="5.71" height="98.33" fill="#E6F3FF"/>
<rect x="488.95" y="1444.69" width="3.06" height="98.33" fill="#F7FCFF"/>
<rect x="491.61" y="1444.69" width="3.06" height="98.33" fill="#FFD9E5"/>
<rect x="494.26" y="1444.69" width="3.06" height="98.33" fill="#FFFFFF"/>
<rect x="496.92" y="1444.69" width="3.06" height="98.33" fill="#FFF2F6"/>
<rect x="499.58" y="1444.69" width="3.06" height="98.33" fill="#FFB2CB"/>
<rect x="502.23" y="1444.69" width="3.06" height="98.33" fill="#FF8CB1"/>
<rect x="504.89" y="1444.69" width="3.06" height="98.33" fill="#FF99B9"/>
<rect x="507.54" y="1444.69" width="3.06" height="98.33" fill="#FFBFD4"/>
<rect x="510.2" y="1444.69" width="3.06" height="98.33" fill="#FFE6EE"/>
<rect x="512.85" y="1444.69" width="3.06" height="98.33" fill="#FFCCDC"/>
<rect x="515.51" y="1444.69" width="3.06" height="98.33" fill="#FFBFD4"/>
<rect x="518.17" y="1444.69" width="3.06" height="98.33" fill="#FFF2F6"/>
<rect x="520.82" y="1444.69" width="5.71" height="98.33" fill="#FFFFFF"/>
<rect x="526.13" y="1444.69" width="3.06" height="98.33" fill="#FFA6C2"/>
<rect x="528.79" y="1444.69" width="3.06" height="98.33" fill="#FF4C85"/>
<rect x="531.45" y="1444.69" width="5.71" height="98.33" fill="#FF3374"/>
<rect x="536.76" y="1444.69" width="3.06" height="98.33" fill="#FF598E"/>
<rect x="539.41" y="1444.69" width="3.06" height="98.33" fill="#FF4C85"/>
<rect x="542.07" y="1444.69" width="3.06" height="98.33" fill="#FF3374"/>
<rect x="544.72" y="1444.69" width="11.02" height="98.33" fill="#FF8CB1"/>
<rect x="555.35" y="1444.69" width="3.06" height="98.33" fill="#FF739F"/>
<rect x="558" y="1444.69" width="3.06" height="98.33" fill="#FF99B9"/>
<rect x="560.66" y="1444.69" width="3.06" height="98.33" fill="#FFB2CB"/>
<rect x="563.31" y="1444.69" width="3.06" height="98.33" fill="#FFBFD4"/>
<rect x="565.97" y="1444.69" width="3.06" height="98.33" fill="#FFD9E5"/>
<rect x="568.63" y="1444.69" width="3.06" height="98.33" fill="#FFCCDC"/>
<rect x="571.28" y="1444.69" width="3.06" height="98.33" fill="#FFA6C2"/>
<rect x="573.94" y="1444.69" width="8.37" height="98.33" fill="#FF99B9"/>
<rect x="581.91" y="1444.69" width="3.06" height="98.33" fill="#FF598E"/>
<rect x="584.56" y="1444.69" width="3.06" height="98.33" fill="#FFB2CB"/>
<rect x="587.22" y="1444.69" width="3.06" height="98.33" fill="#FFBFD4"/>
<rect x="589.87" y="1444.69" width="3.06" height="98.33" fill="#FFB2CB"/>
<rect x="592.53" y="1444.69" width="5.71" height="98.33" fill="#FF80A8"/>
<rect x="597.84" y="1444.69" width="3.06" height="98.33" fill="#FF99B9"/>
<rect x="600.5" y="1444.69" width="5.71" height="98.33" fill="#FF80A8"/>
<rect x="605.81" y="1444.69" width="3.06" height="98.33" fill="#FF8CB1"/>
<rect x="608.46" y="1444.69" width="3.06" height="98.33" fill="#FFBFD4"/>
<rect x="611.12" y="1444.69" width="3.06" height="98.33" fill="#FFCCDC"/>
<rect x="613.78" y="1444.69" width="3.06" height="98.33" fill="#FFFFFF"/>
<rect x="616.43" y="1444.69" width="3.06" height="98.33" fill="#FFD9E5"/>
<rect x="619.09" y="1444.69" width="5.71" height="98.33" fill="#FF598E"/>
<rect x="624.4" y="1444.69" width="3.06" height="98.33" fill="#FFA6C2"/>
<rect x="627.05" y="1444.69" width="3.06" height="98.33" fill="#FFBFD4"/>
<rect x="629.71" y="1444.69" width="3.06" height="98.33" fill="#FFCCDC"/>
<rect x="632.37" y="1444.69" width="5.71" height="98.33" fill="#FFD9E5"/>
<rect x="637.68" y="1444.69" width="8.37" height="98.33" fill="#FFBFD4"/>
<rect x="645.64" y="1444.69" width="3.06" height="98.33" fill="#FF99B9"/>
<rect x="648.3" y="1444.69" width="5.71" height="98.33" fill="#FF80A8"/>
<rect x="653.61" y="1444.69" width="3.06" height="98.33" fill="#FF99B9"/>
<rect x="656.27" y="1444.69" width="3.06" height="98.33" fill="#FF739F"/>
<rect x="658.92" y="1444.69" width="3.06" height="98.33" fill="#FF6697"/>
<rect x="661.58" y="1444.69" width="8.37" height="98.33" fill="#FF407C"/>
<rect x="669.55" y="1444.69" width="3.06" height="98.33" fill="#FF4C85"/>
<rect x="672.2" y="1444.69" width="3.06" height="98.33" fill="#FFF2F6"/>
<rect x="674.86" y="1444.69" width="3.06" height="98.33" fill="#FF99B9"/>
<rect x="677.51" y="1444.69" width="3.06" height="98.33" fill="#FFA6C2"/>
<rect x="680.17" y="1444.69" width="3.06" height="98.33" fill="#FFBFD4"/>
<rect x="682.83" y="1444.69" width="3.06" height="98.33" fill="#FFB2CB"/>
<rect x="685.48" y="1444.69" width="5.71" height="98.33" fill="#FFBFD4"/>
<rect x="690.79" y="1444.69" width="3.06" height="98.33" fill="#FFB2CB"/>
<rect x="693.45" y="1444.69" width="3.06" height="98.33" fill="#FFBFD4"/>
<rect x="696.1" y="1444.69" width="3.06" height="98.33" fill="#FFCCDC"/>
<rect x="698.76" y="1444.69" width="3.06" height="98.33" fill="#EDF7FF"/>
<rect x="701.42" y="1444.69" width="3.06" height="98.33" fill="#D9EEFE"/>
<rect x="704.07" y="1444.69" width="3.06" height="98.33" fill="#CCE8FE"/>
<rect x="706.73" y="1444.69" width="3.06" height="98.33" fill="#FFE6EE"/>
<rect x="709.38" y="1444.69" width="3.06" height="98.33" fill="#FFF2F6"/>
<rect x="712.04" y="1444.69" width="3.06" height="98.33" fill="#E6F3FF"/>
<rect x="714.7" y="1444.69" width="3.06" height="98.33" fill="#EDF7FF"/>
<rect x="717.35" y="1444.69" width="3.06" height="98.33" fill="#FAFDFF"/>
<rect x="720.01" y="1444.69" width="3.06" height="98.33" fill="#F7FCFF"/>
<rect x="722.66" y="1444.69" width="3.06" height="98.33" fill="#E6F3FF"/>
<rect x="725.32" y="1444.69" width="3.06" height="98.33" fill="#FFF7FA"/>
<rect x="727.97" y="1444.69" width="8.37" height="98.33" fill="#FFE6EE"/>
<rect x="735.94" y="1444.69" width="3.06" height="98.33" fill="#FFFFFF"/>
<rect x="738.6" y="1444.69" width="8.37" height="98.33" fill="#CCE8FE"/>
<rect x="746.57" y="1444.69" width="3.06" height="98.33" fill="#D9EEFE"/>
<rect x="749.22" y="1444.69" width="5.71" height="98.33" fill="#E6F3FF"/>
<rect x="754.53" y="1444.69" width="3.06" height="98.33" fill="#EDF7FF"/>
<rect x="757.19" y="1444.69" width="5.71" height="98.33" fill="#FFD9E5"/>
<rect x="762.5" y="1444.69" width="3.06" height="98.33" fill="#FFFFFF"/>
<rect x="765.16" y="1444.69" width="8.37" height="98.33" fill="#FFB2CB"/>
<rect x="773.12" y="1444.69" width="3.06" height="98.33" fill="#8CCBFD"/>
<rect x="775.78" y="1444.69" width="3.06" height="98.33" fill="#99D1FD"/>
<rect x="778.43" y="1444.69" width="3.06" height="98.33" fill="#BFE2FE"/>
<rect x="781.09" y="1444.69" width="3.06" height="98.33" fill="#99D1FD"/>
<rect x="783.75" y="1444.69" width="5.71" height="98.33" fill="#8CCBFD"/>
<rect x="789.06" y="1444.69" width="3.06" height="98.33" fill="#73BFFD"/>
<rect x="791.71" y="1444.69" width="3.06" height="98.33" fill="#66B9FD"/>
<rect x="794.37" y="1444.69" width="3.06" height="98.33" fill="#99D1FD"/>
<rect x="797.03" y="1444.69" width="3.06" height="98.33" fill="#B2DCFE"/>
<rect x="799.68" y="1444.69" width="3.06" height="98.33" fill="#66B9FD"/>
<rect x="802.34" y="1444.69" width="3.06" height="98.33" fill="#BFE2FE"/>
<rect x="804.99" y="1444.69" width="5.71" height="98.33" fill="#CCE8FE"/>
<rect x="810.3" y="1444.69" width="3.06" height="98.33" fill="#FFFFFF"/>
<rect x="812.96" y="1444.69" width="5.71" height="98.33" fill="#BFE2FE"/>
<rect x="818.27" y="1444.69" width="3.06" height="98.33" fill="#4CAEFC"/>
<rect x="820.93" y="1444.69" width="3.06" height="98.33" fill="#99D1FD"/>
<rect x="823.58" y="1444.69" width="3.06" height="98.33" fill="#66B9FD"/>
<rect x="826.24" y="1444.69" width="3.06" height="98.33" fill="#99D1FD"/>
<rect x="828.89" y="1444.69" width="5.71" height="98.33" fill="#B2DCFE"/>
<rect x="834.21" y="1444.69" width="3.06" height="98.33" fill="#99D1FD"/>
<rect x="836.86" y="1444.69" width="3.06" height="98.33" fill="#73BFFD"/>
<rect x="839.52" y="1444.69" width="3.06" height="98.33" fill="#66B9FD"/>
</g>
<line x1="282" x2="841.7" y1="1052.8" y2="1052.8" stroke="#cacaca" stroke-width="1.7" stroke-dasharray="4.2 2.7"/>
<polyline points="283.1,1086.9 285.76,1094.75 288.41,1096 291.07,1087.25 293.72,1084 296.38,1086.25 299.03,1081 301.69,1078.75 304.35,1108.5 307,1101.25 309.66,1096.9 312.31,1083.75 314.97,1069.4 317.63,1057.5 320.28,1052.25 322.94,1048.1 325.59,1048.75 328.25,1077.75 330.9,1070 333.56,1052.25 336.22,1055 338.87,1050 341.53,1096 344.18,1084 346.84,1080 349.5,1067.25 352.15,1074.4 354.81,1073.1 357.46,1090.25 360.12,1081 362.77,1093.1 365.43,1089.75 368.09,1076.25 370.74,1052.5 373.4,1056.9 376.05,1058.75 378.71,1065.6 381.36,1040.6 384.02,1055 386.68,1050 389.33,1040.6 391.99,1050.6 394.64,1049.75 397.3,1051.9 399.96,1045 402.61,1036.9 405.27,1024.6 407.92,1031.25 410.58,1031.25 413.23,1008.5 415.89,1011.5 418.55,1025 421.2,1033.1 423.86,1031.6 426.51,1016.9 429.17,1053.1 431.82,1056.25 434.48,1057.5 437.14,1051.25 439.79,1021.5 442.45,1021 445.1,1038.75 447.76,1041.9 450.42,1011.25 453.07,1001.9 455.73,1018.75 458.38,1010.25 461.04,1009.75 463.69,1015.6 466.35,1028.75 469.01,1028.5 471.66,1026.5 474.32,1037.5 476.97,1020 479.63,1019 482.29,1026.25 484.94,1013.75 487.6,1020.25 490.25,1012.5 492.91,991.9 495.56,1005.6 498.22,1013.75 500.88,998.75 503.53,1011.9 506.19,1016.25 508.84,1007.5 511.5,999 514.15,1013.75 516.81,1019.4 519.47,1028.5 522.12,1029 524.78,1039.1 527.43,1016.25 530.09,1000 532.75,1020 535.4,1026 538.06,1017.5 540.71,1008.1 543.37,1023.75 546.02,1051.9 548.68,1038.1 551.34,1026.25 553.99,1016.9 556.65,1011.5 559.3,1013.1 561.96,1028.75 564.61,1038.75 567.27,1038.1 569.93,1040 572.58,1024.4 575.24,1058.75 577.89,1056.9 580.55,1038.75 583.21,1044.4 585.86,1065 588.52,1070 591.17,1072.25 593.83,1010 596.48,1020 599.14,1022.25 601.8,1030 604.45,1010.6 607.11,1001.9 609.76,1021.25 612.42,1031.25 615.08,1041 617.73,1017.5 620.39,1007.9 623.04,1022.5 625.7,1047.5 628.35,1056.25 631.01,1051.9 633.67,1031.25 636.32,1028.1 638.98,1017.5 641.63,1032.25 644.29,1032.9 646.94,1025 649.6,1018.1 652.26,999.4 654.91,1010.6 657.57,1013.1 660.22,1023.1 662.88,1027.5 665.54,1040.6 668.19,1035 670.85,1017.75 673.5,1070 676.16,1046.9 678.81,1063.1 681.47,1060.6 684.13,1062.75 686.78,1078.1 689.44,1070.6 692.09,1064.75 694.75,1070.5 697.4,1094.8 700.06,1102.9 702.72,1096.8 705.37,1102 708.03,1086 710.68,1061.3 713.34,1051 716,1066.7 718.65,1031.3 721.31,1026.3 723.96,1041.3 726.62,1037.7 729.27,1038.7 731.93,1058.7 734.59,1049.3 737.24,1055.3 739.9,1058 742.55,1064 745.21,1079.3 747.87,1048.4 750.52,1066 753.18,1075.3 755.83,1054 758.49,1045 761.14,1058 763.8,1073 766.46,1069.3 769.11,1067.6 771.77,1095.3 774.42,1104 777.08,1097.3 779.73,1094.7 782.39,1080.7 785.05,1093 787.7,1079.3 790.36,1080 793.01,1102 795.67,1094.7 798.33,1116.7 800.98,1131.6 803.64,1100 806.29,1103.3 808.95,1098 811.6,1098 814.26,1097.3 816.92,1115.3 819.57,1138.7 822.23,1138 824.88,1151.3 827.54,1112.7 830.19,1105.7 832.85,1119.6 835.51,1097.3 838.16,1116.7 840.82,1130.7" fill="none" stroke="#000" stroke-width="2.2" stroke-linejoin="round" stroke-linecap="square"/>
<text class="fx" y="1064.8" font-size="32.5" fill="#000"><tspan x="201">f</tspan><tspan x="214.8" dy="0.5" font-size="33.5" font-style="normal">(</tspan><tspan x="230.1" dy="-0.5">x</tspan><tspan x="251.8" dy="0.5" font-size="33.5" font-style="normal">)</tspan></text>
<line x1="281.9" x2="281.9" y1="1150.2" y2="1543" stroke="#000" stroke-width="2.2"/>
<line x1="842.25" x2="842.25" y1="1150.2" y2="1544" stroke="#000" stroke-width="2"/>
<rect x="842.5" y="1166" width="27.3" height="68" fill="#000"/>
<rect x="842.5" y="1264" width="16.7" height="68" fill="#000"/>
<rect x="842.5" y="1362" width="16.5" height="68" fill="#000"/>
<rect x="842.5" y="1460" width="15.5" height="68" fill="#000"/>
<line x1="272.8" x2="281.9" y1="1199.62" y2="1199.62" stroke="#000" stroke-width="2.2"/>
<text class="b" x="223.6" y="1211.41" font-size="31.5" fill="#000">X1</text>
<line x1="272.8" x2="281.9" y1="1297.64" y2="1297.64" stroke="#000" stroke-width="2.2"/>
<text class="b" x="223.6" y="1309.44" font-size="31.5" fill="#000">X4</text>
<line x1="272.8" x2="281.9" y1="1395.67" y2="1395.67" stroke="#000" stroke-width="2.2"/>
<text class="b" x="223.6" y="1407.47" font-size="31.5" fill="#000">X2</text>
<line x1="272.8" x2="281.9" y1="1493.7" y2="1493.7" stroke="#000" stroke-width="2.2"/>
<text class="b" x="223.6" y="1505.5" font-size="31.5" fill="#000">X3</text>
<line x1="283.1" x2="283.1" y1="1542.5" y2="1551.8" stroke="#111" stroke-width="2.4"/>
<text class="b" x="283.1" y="1578.2" font-size="25.2" text-anchor="middle" fill="#000">0</text>
<line x1="415.89" x2="415.89" y1="1542.5" y2="1551.8" stroke="#111" stroke-width="2.4"/>
<text class="b" x="415.89" y="1578.2" font-size="25.2" text-anchor="middle" fill="#000">50</text>
<line x1="548.68" x2="548.68" y1="1542.5" y2="1551.8" stroke="#111" stroke-width="2.4"/>
<text class="b" x="548.68" y="1578.2" font-size="25.2" text-anchor="middle" fill="#000">100</text>
<line x1="681.47" x2="681.47" y1="1542.5" y2="1551.8" stroke="#111" stroke-width="2.4"/>
<text class="b" x="681.47" y="1578.2" font-size="25.2" text-anchor="middle" fill="#000">150</text>
<line x1="814.26" x2="814.26" y1="1542.5" y2="1551.8" stroke="#111" stroke-width="2.4"/>
<text class="b" x="814.26" y="1578.2" font-size="25.2" text-anchor="middle" fill="#000">200</text>
<g clip-path="url(#cpins)"><text x="562" y="1611.4" font-size="25.6" text-anchor="middle" fill="#1a1a1a">Instances</text></g>
<text x="138.6" y="1612" font-size="33" fill="#111">(c)</text>
<rect x="956.1" y="905.6" width="8.1" height="636.9" fill="url(#cbc)"/>
<text class="b" x="973" y="915.7" font-size="27.8" fill="#000">11.57</text>
<text class="b" x="973" y="1552.3" font-size="27.8" fill="#000">−11.57</text>
<text transform="translate(1046.8 1225.3) rotate(-90)" font-size="30.8" text-anchor="middle" fill="#111">SHAP value (impact on model output)</text>
</svg></body></html>
